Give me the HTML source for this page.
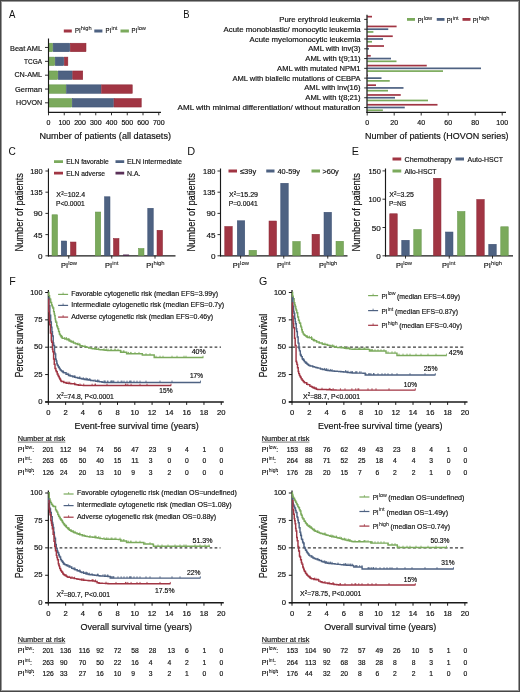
<!DOCTYPE html>
<html><head><meta charset="utf-8"><title>Figure</title>
<style>
html,body{margin:0;padding:0;background:#fff;}
body{width:520px;height:692px;overflow:hidden;}
svg{display:block;will-change:transform;font-family:"Liberation Sans", sans-serif;}
svg text{fill:#111;stroke:#111;stroke-width:0.18px;} svg text.big{stroke-width:0;} svg text.sup{stroke-width:0.06px;}
</style></head><body>
<svg width="520" height="692" viewBox="0 0 520 692">
<rect x="0" y="0" width="520" height="692" fill="#fff"/>
<text x="9" y="17.6" font-size="11.6" textLength="6.4" lengthAdjust="spacingAndGlyphs" class="big">A</text>
<rect x="63.8" y="29.5" width="8" height="3" fill="#a13543"/>
<text x="75" y="33.1" font-size="6.9" textLength="5.6" lengthAdjust="spacingAndGlyphs">PI</text>
<text x="80.85" y="30.1" font-size="5.7" class="sup">high</text>
<rect x="94.3" y="29.5" width="8.1" height="3" fill="#4e6282"/>
<text x="105.6" y="33.1" font-size="6.9" textLength="5.6" lengthAdjust="spacingAndGlyphs">PI</text>
<text x="111.45" y="30.1" font-size="5.7" class="sup">int</text>
<rect x="120.5" y="29.5" width="8.4" height="3" fill="#7baa5c"/>
<text x="131.6" y="33.1" font-size="6.9" textLength="5.6" lengthAdjust="spacingAndGlyphs">PI</text>
<text x="137.45" y="30.1" font-size="5.7" class="sup">low</text>
<rect x="48.77" y="43.23" width="3.85" height="8.45" fill="#7baa5c" stroke="#66974a" stroke-width="0.55"/>
<rect x="53.17" y="43.23" width="16.55" height="8.45" fill="#4e6282" stroke="#3a4f72" stroke-width="0.55"/>
<rect x="70.28" y="43.23" width="15.7" height="8.45" fill="#a13543" stroke="#8c2634" stroke-width="0.55"/>
<line x1="45" y1="47.45" x2="48.5" y2="47.45" stroke="#1a1a1a" stroke-width="0.9"/>
<text x="10" y="50.5" font-size="7.9" textLength="32.1" lengthAdjust="spacingAndGlyphs">Beat AML</text>
<rect x="48.77" y="57.12" width="5.95" height="8.45" fill="#7baa5c" stroke="#66974a" stroke-width="0.55"/>
<rect x="55.27" y="57.12" width="8.45" height="8.45" fill="#4e6282" stroke="#3a4f72" stroke-width="0.55"/>
<rect x="64.28" y="57.12" width="3.55" height="8.45" fill="#a13543" stroke="#8c2634" stroke-width="0.55"/>
<line x1="45" y1="61.35" x2="48.5" y2="61.35" stroke="#1a1a1a" stroke-width="0.9"/>
<text x="24" y="63.9" font-size="7.9" textLength="18.1" lengthAdjust="spacingAndGlyphs">TCGA</text>
<rect x="48.77" y="70.98" width="8.95" height="8.45" fill="#7baa5c" stroke="#66974a" stroke-width="0.55"/>
<rect x="58.27" y="70.98" width="13.95" height="8.45" fill="#4e6282" stroke="#3a4f72" stroke-width="0.55"/>
<rect x="72.78" y="70.98" width="9.95" height="8.45" fill="#a13543" stroke="#8c2634" stroke-width="0.55"/>
<line x1="45" y1="75.2" x2="48.5" y2="75.2" stroke="#1a1a1a" stroke-width="0.9"/>
<text x="14.4" y="77.4" font-size="7.9" textLength="27.7" lengthAdjust="spacingAndGlyphs">CN-AML</text>
<rect x="48.77" y="84.83" width="17.2" height="8.45" fill="#7baa5c" stroke="#66974a" stroke-width="0.55"/>
<rect x="66.53" y="84.83" width="34.45" height="8.45" fill="#4e6282" stroke="#3a4f72" stroke-width="0.55"/>
<rect x="101.53" y="84.83" width="30.7" height="8.45" fill="#a13543" stroke="#8c2634" stroke-width="0.55"/>
<line x1="45" y1="89.05" x2="48.5" y2="89.05" stroke="#1a1a1a" stroke-width="0.9"/>
<text x="15" y="91.9" font-size="7.9" textLength="27.1" lengthAdjust="spacingAndGlyphs">German</text>
<rect x="48.77" y="98.58" width="22.95" height="8.45" fill="#7baa5c" stroke="#66974a" stroke-width="0.55"/>
<rect x="72.28" y="98.58" width="41.2" height="8.45" fill="#4e6282" stroke="#3a4f72" stroke-width="0.55"/>
<rect x="114.03" y="98.58" width="27.2" height="8.45" fill="#a13543" stroke="#8c2634" stroke-width="0.55"/>
<line x1="45" y1="102.8" x2="48.5" y2="102.8" stroke="#1a1a1a" stroke-width="0.9"/>
<text x="16" y="105" font-size="7.9" textLength="26.1" lengthAdjust="spacingAndGlyphs">HOVON</text>
<line x1="48.5" y1="38.5" x2="48.5" y2="113" stroke="#1a1a1a" stroke-width="1.15"/>
<line x1="48" y1="112.45" x2="161" y2="112.45" stroke="#1a1a1a" stroke-width="1.2"/>
<line x1="48.5" y1="112.45" x2="48.5" y2="115.3" stroke="#1a1a1a" stroke-width="0.9"/>
<text x="48.5" y="125.3" font-size="7" text-anchor="middle">0</text>
<line x1="64.25" y1="112.45" x2="64.25" y2="115.3" stroke="#1a1a1a" stroke-width="0.9"/>
<text x="64.25" y="125.3" font-size="7" text-anchor="middle">100</text>
<line x1="80" y1="112.45" x2="80" y2="115.3" stroke="#1a1a1a" stroke-width="0.9"/>
<text x="80" y="125.3" font-size="7" text-anchor="middle">200</text>
<line x1="95.75" y1="112.45" x2="95.75" y2="115.3" stroke="#1a1a1a" stroke-width="0.9"/>
<text x="95.75" y="125.3" font-size="7" text-anchor="middle">300</text>
<line x1="111.5" y1="112.45" x2="111.5" y2="115.3" stroke="#1a1a1a" stroke-width="0.9"/>
<text x="111.5" y="125.3" font-size="7" text-anchor="middle">400</text>
<line x1="127.25" y1="112.45" x2="127.25" y2="115.3" stroke="#1a1a1a" stroke-width="0.9"/>
<text x="127.25" y="125.3" font-size="7" text-anchor="middle">500</text>
<line x1="143" y1="112.45" x2="143" y2="115.3" stroke="#1a1a1a" stroke-width="0.9"/>
<text x="143" y="125.3" font-size="7" text-anchor="middle">600</text>
<line x1="158.75" y1="112.45" x2="158.75" y2="115.3" stroke="#1a1a1a" stroke-width="0.9"/>
<text x="158.75" y="125.3" font-size="7" text-anchor="middle">700</text>
<text x="39.4" y="138.9" font-size="9.4" textLength="131.6" lengthAdjust="spacingAndGlyphs">Number of patients (all datasets)</text>
<text x="183.2" y="17.6" font-size="11.6" textLength="6.3" lengthAdjust="spacingAndGlyphs" class="big">B</text>
<rect x="407" y="18" width="8" height="2.8" fill="#7baa5c"/>
<text x="417.8" y="22.5" font-size="6.9" textLength="5.6" lengthAdjust="spacingAndGlyphs">PI</text>
<text x="423.65" y="19.5" font-size="5.7" class="sup">low</text>
<rect x="436.75" y="18" width="7.75" height="2.8" fill="#4e6282"/>
<text x="446.8" y="22.5" font-size="6.9" textLength="5.6" lengthAdjust="spacingAndGlyphs">PI</text>
<text x="452.65" y="19.5" font-size="5.7" class="sup">int</text>
<rect x="462.5" y="18" width="8" height="2.8" fill="#a13543"/>
<text x="472.8" y="22.5" font-size="6.9" textLength="5.6" lengthAdjust="spacingAndGlyphs">PI</text>
<text x="478.65" y="19.5" font-size="5.7" class="sup">high</text>
<rect x="367.2" y="15.8" width="4.8" height="1.7" fill="#a13543"/>
<rect x="367.2" y="21.3" width="0.5" height="1.7" fill="#7baa5c"/>
<line x1="364.2" y1="19.4" x2="367.2" y2="19.4" stroke="#1a1a1a" stroke-width="0.9"/>
<text x="360.6" y="21.95" font-size="7.8" text-anchor="end" textLength="81.25" lengthAdjust="spacingAndGlyphs">Pure erythroid leukemia</text>
<rect x="367.2" y="25.59" width="29.4" height="1.7" fill="#a13543"/>
<rect x="367.2" y="28.34" width="21.05" height="1.7" fill="#4e6282"/>
<rect x="367.2" y="31.09" width="6.2" height="1.7" fill="#7baa5c"/>
<line x1="364.2" y1="29.19" x2="367.2" y2="29.19" stroke="#1a1a1a" stroke-width="0.9"/>
<text x="360.6" y="31.74" font-size="7.8" text-anchor="end" textLength="137" lengthAdjust="spacingAndGlyphs">Acute monoblastic/ monocytic leukemia</text>
<rect x="367.2" y="35.38" width="25.55" height="1.7" fill="#a13543"/>
<rect x="367.2" y="38.13" width="15.8" height="1.7" fill="#4e6282"/>
<rect x="367.2" y="40.88" width="4.8" height="1.7" fill="#7baa5c"/>
<line x1="364.2" y1="38.98" x2="367.2" y2="38.98" stroke="#1a1a1a" stroke-width="0.9"/>
<text x="360.6" y="41.53" font-size="7.8" text-anchor="end" textLength="111" lengthAdjust="spacingAndGlyphs">Acute myelomonocytic leukemia</text>
<rect x="367.2" y="45.17" width="16.8" height="1.7" fill="#a13543"/>
<rect x="367.2" y="47.92" width="1.8" height="1.7" fill="#4e6282"/>
<line x1="364.2" y1="48.77" x2="367.2" y2="48.77" stroke="#1a1a1a" stroke-width="0.9"/>
<text x="360.6" y="51.32" font-size="7.8" text-anchor="end" textLength="52.4" lengthAdjust="spacingAndGlyphs">AML with inv(3)</text>
<rect x="367.2" y="54.96" width="3.55" height="1.7" fill="#a13543"/>
<rect x="367.2" y="57.71" width="23.8" height="1.7" fill="#4e6282"/>
<rect x="367.2" y="60.46" width="29.3" height="1.7" fill="#7baa5c"/>
<line x1="364.2" y1="58.56" x2="367.2" y2="58.56" stroke="#1a1a1a" stroke-width="0.9"/>
<text x="360.6" y="61.11" font-size="7.8" text-anchor="end" textLength="55.3" lengthAdjust="spacingAndGlyphs">AML with t(9;11)</text>
<rect x="367.2" y="64.75" width="59.55" height="1.7" fill="#a13543"/>
<rect x="367.2" y="67.5" width="113.8" height="1.7" fill="#4e6282"/>
<rect x="367.2" y="70.25" width="75.8" height="1.7" fill="#7baa5c"/>
<line x1="364.2" y1="68.35" x2="367.2" y2="68.35" stroke="#1a1a1a" stroke-width="0.9"/>
<text x="360.6" y="70.9" font-size="7.8" text-anchor="end" textLength="83.5" lengthAdjust="spacingAndGlyphs">AML with mutated NPM1</text>
<rect x="367.2" y="74.54" width="0.8" height="1.7" fill="#a13543"/>
<rect x="367.2" y="77.29" width="14.3" height="1.7" fill="#4e6282"/>
<rect x="367.2" y="80.04" width="22.55" height="1.7" fill="#7baa5c"/>
<line x1="364.2" y1="78.14" x2="367.2" y2="78.14" stroke="#1a1a1a" stroke-width="0.9"/>
<text x="360.6" y="80.69" font-size="7.8" text-anchor="end" textLength="128.2" lengthAdjust="spacingAndGlyphs">AML with biallelic mutations of CEBPA</text>
<rect x="367.2" y="84.33" width="8.8" height="1.7" fill="#a13543"/>
<rect x="367.2" y="87.08" width="36.3" height="1.7" fill="#4e6282"/>
<rect x="367.2" y="89.83" width="20.8" height="1.7" fill="#7baa5c"/>
<line x1="364.2" y1="87.93" x2="367.2" y2="87.93" stroke="#1a1a1a" stroke-width="0.9"/>
<text x="360.6" y="90.48" font-size="7.8" text-anchor="end" textLength="56.3" lengthAdjust="spacingAndGlyphs">AML with inv(16)</text>
<rect x="367.2" y="94.12" width="33.55" height="1.7" fill="#a13543"/>
<rect x="367.2" y="96.87" width="27.8" height="1.7" fill="#4e6282"/>
<rect x="367.2" y="99.62" width="60.8" height="1.7" fill="#7baa5c"/>
<line x1="364.2" y1="97.72" x2="367.2" y2="97.72" stroke="#1a1a1a" stroke-width="0.9"/>
<text x="360.6" y="100.27" font-size="7.8" text-anchor="end" textLength="55.3" lengthAdjust="spacingAndGlyphs">AML with t(8;21)</text>
<rect x="367.2" y="103.91" width="70.3" height="1.7" fill="#a13543"/>
<rect x="367.2" y="106.66" width="37.55" height="1.7" fill="#4e6282"/>
<rect x="367.2" y="109.41" width="15.7" height="1.7" fill="#7baa5c"/>
<line x1="364.2" y1="107.51" x2="367.2" y2="107.51" stroke="#1a1a1a" stroke-width="0.9"/>
<text x="360.6" y="110.06" font-size="7.8" text-anchor="end" textLength="183" lengthAdjust="spacingAndGlyphs">AML with minimal differentiation/ without maturation</text>
<line x1="367" y1="14.7" x2="367" y2="113" stroke="#1a1a1a" stroke-width="1.25"/>
<line x1="366.4" y1="112.45" x2="506" y2="112.45" stroke="#1a1a1a" stroke-width="1.2"/>
<line x1="367.2" y1="112.45" x2="367.2" y2="115.5" stroke="#1a1a1a" stroke-width="0.9"/>
<text x="367.2" y="125.2" font-size="7" text-anchor="middle">0</text>
<line x1="394.2" y1="112.45" x2="394.2" y2="115.5" stroke="#1a1a1a" stroke-width="0.9"/>
<text x="394.2" y="125.2" font-size="7" text-anchor="middle">20</text>
<line x1="421.2" y1="112.45" x2="421.2" y2="115.5" stroke="#1a1a1a" stroke-width="0.9"/>
<text x="421.2" y="125.2" font-size="7" text-anchor="middle">40</text>
<line x1="448.2" y1="112.45" x2="448.2" y2="115.5" stroke="#1a1a1a" stroke-width="0.9"/>
<text x="448.2" y="125.2" font-size="7" text-anchor="middle">60</text>
<line x1="475.2" y1="112.45" x2="475.2" y2="115.5" stroke="#1a1a1a" stroke-width="0.9"/>
<text x="475.2" y="125.2" font-size="7" text-anchor="middle">80</text>
<line x1="502.2" y1="112.45" x2="502.2" y2="115.5" stroke="#1a1a1a" stroke-width="0.9"/>
<text x="502.2" y="125.2" font-size="7" text-anchor="middle">100</text>
<text x="365" y="139.2" font-size="9.4" textLength="143.6" lengthAdjust="spacingAndGlyphs">Number of patients (HOVON series)</text>
<text x="8.6" y="154.6" font-size="11.6" textLength="7.3" lengthAdjust="spacingAndGlyphs" class="big">C</text>
<line x1="48.45" y1="168.5" x2="48.45" y2="256.4" stroke="#1a1a1a" stroke-width="1.15"/>
<line x1="47.9" y1="255.8" x2="175.5" y2="255.8" stroke="#1a1a1a" stroke-width="1.35"/>
<line x1="45.45" y1="255.8" x2="48.45" y2="255.8" stroke="#1a1a1a" stroke-width="0.9"/>
<text x="42.6" y="258.85" font-size="8.1" text-anchor="end">0</text>
<line x1="45.45" y1="234.6" x2="48.45" y2="234.6" stroke="#1a1a1a" stroke-width="0.9"/>
<text x="42.6" y="237.65" font-size="8.1" text-anchor="end">45</text>
<line x1="45.45" y1="213.4" x2="48.45" y2="213.4" stroke="#1a1a1a" stroke-width="0.9"/>
<text x="42.6" y="216.45" font-size="8.1" text-anchor="end">90</text>
<line x1="45.45" y1="192.2" x2="48.45" y2="192.2" stroke="#1a1a1a" stroke-width="0.9"/>
<text x="42.6" y="195.25" font-size="8.1" text-anchor="end" textLength="12.4" lengthAdjust="spacingAndGlyphs">135</text>
<line x1="45.45" y1="171" x2="48.45" y2="171" stroke="#1a1a1a" stroke-width="0.9"/>
<text x="42.6" y="174.05" font-size="8.1" text-anchor="end" textLength="12.4" lengthAdjust="spacingAndGlyphs">180</text>
<text transform="translate(22.6 212.3) rotate(-90)" font-size="10.1" text-anchor="middle" textLength="78.5" lengthAdjust="spacingAndGlyphs">Number of patients</text>
<rect x="52.02" y="214.78" width="5.45" height="40.75" fill="#7baa5c" stroke="#66974a" stroke-width="0.55"/>
<rect x="61.27" y="241.03" width="5.45" height="14.5" fill="#4e6282" stroke="#3a4f72" stroke-width="0.55"/>
<rect x="70.53" y="242.03" width="5.45" height="13.5" fill="#a13543" stroke="#8c2634" stroke-width="0.55"/>
<rect x="95.28" y="212.03" width="5.45" height="43.5" fill="#7baa5c" stroke="#66974a" stroke-width="0.55"/>
<rect x="104.53" y="196.78" width="5.45" height="58.75" fill="#4e6282" stroke="#3a4f72" stroke-width="0.55"/>
<rect x="113.53" y="238.53" width="5.45" height="17" fill="#a13543" stroke="#8c2634" stroke-width="0.55"/>
<rect x="123.38" y="254.88" width="5.45" height="0.65" fill="#5a3058" stroke="#4a2048" stroke-width="0.55"/>
<rect x="138.53" y="248.53" width="5.45" height="7" fill="#7baa5c" stroke="#66974a" stroke-width="0.55"/>
<rect x="147.78" y="208.28" width="5.45" height="47.25" fill="#4e6282" stroke="#3a4f72" stroke-width="0.55"/>
<rect x="157.03" y="230.28" width="5.45" height="25.25" fill="#a13543" stroke="#8c2634" stroke-width="0.55"/>
<line x1="68.75" y1="255.8" x2="68.75" y2="258.6" stroke="#1a1a1a" stroke-width="0.9"/>
<line x1="111.75" y1="255.8" x2="111.75" y2="258.6" stroke="#1a1a1a" stroke-width="0.9"/>
<line x1="155" y1="255.8" x2="155" y2="258.6" stroke="#1a1a1a" stroke-width="0.9"/>
<text x="56.3" y="197" font-size="7">X</text>
<text x="61.15" y="194.6" font-size="4.41">2</text>
<text x="63.55" y="197" font-size="7" textLength="21.6" lengthAdjust="spacingAndGlyphs">=102.4</text>
<text x="56" y="205.7" font-size="7" textLength="28.6" lengthAdjust="spacingAndGlyphs">P&lt;0.0001</text>
<rect x="54" y="160.25" width="9" height="2.75" fill="#7baa5c"/>
<text x="66.25" y="164.3" font-size="7.7" textLength="42.5" lengthAdjust="spacingAndGlyphs">ELN favorable</text>
<rect x="115.5" y="160.25" width="8.7" height="2.75" fill="#4e6282"/>
<text x="127" y="164.3" font-size="7.7" textLength="55" lengthAdjust="spacingAndGlyphs">ELN intermediate</text>
<rect x="54" y="171.75" width="9" height="2.75" fill="#a13543"/>
<text x="66.25" y="175.5" font-size="7.7" textLength="38.75" lengthAdjust="spacingAndGlyphs">ELN adverse</text>
<rect x="115.5" y="171.75" width="8.7" height="2.75" fill="#5a3058"/>
<text x="127" y="175.5" font-size="7.7" textLength="13.5" lengthAdjust="spacingAndGlyphs">N.A.</text>
<text x="187.3" y="154.6" font-size="11.6" textLength="7.9" lengthAdjust="spacingAndGlyphs" class="big">D</text>
<line x1="220.5" y1="168.5" x2="220.5" y2="256.4" stroke="#1a1a1a" stroke-width="1.15"/>
<line x1="219.95" y1="255.8" x2="347.5" y2="255.8" stroke="#1a1a1a" stroke-width="1.35"/>
<line x1="217.5" y1="255.8" x2="220.5" y2="255.8" stroke="#1a1a1a" stroke-width="0.9"/>
<text x="215.4" y="258.85" font-size="8.1" text-anchor="end">0</text>
<line x1="217.5" y1="234.6" x2="220.5" y2="234.6" stroke="#1a1a1a" stroke-width="0.9"/>
<text x="215.4" y="237.65" font-size="8.1" text-anchor="end">45</text>
<line x1="217.5" y1="213.4" x2="220.5" y2="213.4" stroke="#1a1a1a" stroke-width="0.9"/>
<text x="215.4" y="216.45" font-size="8.1" text-anchor="end">90</text>
<line x1="217.5" y1="192.2" x2="220.5" y2="192.2" stroke="#1a1a1a" stroke-width="0.9"/>
<text x="215.4" y="195.25" font-size="8.1" text-anchor="end" textLength="12.4" lengthAdjust="spacingAndGlyphs">135</text>
<line x1="217.5" y1="171" x2="220.5" y2="171" stroke="#1a1a1a" stroke-width="0.9"/>
<text x="215.4" y="174.05" font-size="8.1" text-anchor="end" textLength="12.4" lengthAdjust="spacingAndGlyphs">180</text>
<text transform="translate(194.6 212.3) rotate(-90)" font-size="10.1" text-anchor="middle" textLength="78.5" lengthAdjust="spacingAndGlyphs">Number of patients</text>
<rect x="224.78" y="226.53" width="7.45" height="29" fill="#a13543" stroke="#8c2634" stroke-width="0.55"/>
<rect x="237.28" y="220.78" width="7.45" height="34.75" fill="#4e6282" stroke="#3a4f72" stroke-width="0.55"/>
<rect x="249.03" y="250.28" width="7.45" height="5.25" fill="#7baa5c" stroke="#66974a" stroke-width="0.55"/>
<rect x="269.02" y="221.03" width="7.45" height="34.5" fill="#a13543" stroke="#8c2634" stroke-width="0.55"/>
<rect x="280.77" y="183.28" width="7.45" height="72.25" fill="#4e6282" stroke="#3a4f72" stroke-width="0.55"/>
<rect x="292.77" y="241.53" width="7.45" height="14" fill="#7baa5c" stroke="#66974a" stroke-width="0.55"/>
<rect x="312.02" y="234.28" width="7.45" height="21.25" fill="#a13543" stroke="#8c2634" stroke-width="0.55"/>
<rect x="324.02" y="212.28" width="7.45" height="43.25" fill="#4e6282" stroke="#3a4f72" stroke-width="0.55"/>
<rect x="336.02" y="241.28" width="7.45" height="14.25" fill="#7baa5c" stroke="#66974a" stroke-width="0.55"/>
<line x1="240.6" y1="255.8" x2="240.6" y2="258.6" stroke="#1a1a1a" stroke-width="0.9"/>
<line x1="283.75" y1="255.8" x2="283.75" y2="258.6" stroke="#1a1a1a" stroke-width="0.9"/>
<line x1="327.75" y1="255.8" x2="327.75" y2="258.6" stroke="#1a1a1a" stroke-width="0.9"/>
<text x="229" y="197" font-size="7">X</text>
<text x="233.85" y="194.6" font-size="4.41">2</text>
<text x="236.25" y="197" font-size="7" textLength="21.8" lengthAdjust="spacingAndGlyphs">=15.29</text>
<text x="228.7" y="205.7" font-size="7" textLength="29" lengthAdjust="spacingAndGlyphs">P=0.0041</text>
<rect x="228.5" y="169.5" width="8.5" height="3" fill="#a13543"/>
<text x="240" y="173.5" font-size="7.7" textLength="16.25" lengthAdjust="spacingAndGlyphs">≤39y</text>
<rect x="266.25" y="169.5" width="8.25" height="3" fill="#4e6282"/>
<text x="277.5" y="173.5" font-size="7.7" textLength="22.5" lengthAdjust="spacingAndGlyphs">40-59y</text>
<rect x="311.5" y="169.5" width="8.5" height="3" fill="#7baa5c"/>
<text x="322.5" y="173.5" font-size="7.7" textLength="16.25" lengthAdjust="spacingAndGlyphs">&gt;60y</text>
<text x="351.8" y="154.6" font-size="11.6" textLength="7.2" lengthAdjust="spacingAndGlyphs" class="big">E</text>
<line x1="385.5" y1="168.5" x2="385.5" y2="256.4" stroke="#1a1a1a" stroke-width="1.15"/>
<line x1="384.95" y1="255.8" x2="513" y2="255.8" stroke="#1a1a1a" stroke-width="1.35"/>
<line x1="382.5" y1="255.8" x2="385.5" y2="255.8" stroke="#1a1a1a" stroke-width="0.9"/>
<text x="380.8" y="258.85" font-size="8.1" text-anchor="end">0</text>
<line x1="382.5" y1="227.5" x2="385.5" y2="227.5" stroke="#1a1a1a" stroke-width="0.9"/>
<text x="380.8" y="230.55" font-size="8.1" text-anchor="end">50</text>
<line x1="382.5" y1="199.2" x2="385.5" y2="199.2" stroke="#1a1a1a" stroke-width="0.9"/>
<text x="380.8" y="202.25" font-size="8.1" text-anchor="end" textLength="12.4" lengthAdjust="spacingAndGlyphs">100</text>
<line x1="382.5" y1="170.9" x2="385.5" y2="170.9" stroke="#1a1a1a" stroke-width="0.9"/>
<text x="380.8" y="173.95" font-size="8.1" text-anchor="end" textLength="12.4" lengthAdjust="spacingAndGlyphs">150</text>
<text transform="translate(360.3 212.3) rotate(-90)" font-size="10.1" text-anchor="middle" textLength="78.5" lengthAdjust="spacingAndGlyphs">Number of patients</text>
<rect x="389.77" y="213.78" width="7.45" height="41.75" fill="#a13543" stroke="#8c2634" stroke-width="0.55"/>
<rect x="401.77" y="240.28" width="7.45" height="15.25" fill="#4e6282" stroke="#3a4f72" stroke-width="0.55"/>
<rect x="413.77" y="229.53" width="7.45" height="26" fill="#7baa5c" stroke="#66974a" stroke-width="0.55"/>
<rect x="433.52" y="178.28" width="7.45" height="77.25" fill="#a13543" stroke="#8c2634" stroke-width="0.55"/>
<rect x="445.52" y="232.03" width="7.45" height="23.5" fill="#4e6282" stroke="#3a4f72" stroke-width="0.55"/>
<rect x="457.52" y="211.53" width="7.45" height="44" fill="#7baa5c" stroke="#66974a" stroke-width="0.55"/>
<rect x="476.77" y="199.53" width="7.45" height="56" fill="#a13543" stroke="#8c2634" stroke-width="0.55"/>
<rect x="488.77" y="244.28" width="7.45" height="11.25" fill="#4e6282" stroke="#3a4f72" stroke-width="0.55"/>
<rect x="500.77" y="226.78" width="7.45" height="28.75" fill="#7baa5c" stroke="#66974a" stroke-width="0.55"/>
<line x1="405.5" y1="255.8" x2="405.5" y2="258.6" stroke="#1a1a1a" stroke-width="0.9"/>
<line x1="449.25" y1="255.8" x2="449.25" y2="258.6" stroke="#1a1a1a" stroke-width="0.9"/>
<line x1="492.5" y1="255.8" x2="492.5" y2="258.6" stroke="#1a1a1a" stroke-width="0.9"/>
<text x="389.2" y="197" font-size="7">X</text>
<text x="394.05" y="194.6" font-size="4.41">2</text>
<text x="396.45" y="197" font-size="7" textLength="17.5" lengthAdjust="spacingAndGlyphs">=3.25</text>
<text x="388.9" y="205.7" font-size="7" textLength="17.2" lengthAdjust="spacingAndGlyphs">P=NS</text>
<rect x="392.5" y="157.5" width="8.75" height="3" fill="#a13543"/>
<text x="404.5" y="161.6" font-size="7.7" textLength="47.5" lengthAdjust="spacingAndGlyphs">Chemotherapy</text>
<rect x="455.5" y="157.5" width="8.5" height="3" fill="#4e6282"/>
<text x="467.5" y="161.6" font-size="7.7" textLength="35.5" lengthAdjust="spacingAndGlyphs">Auto-HSCT</text>
<rect x="392.5" y="169.5" width="8.75" height="3" fill="#7baa5c"/>
<text x="404.5" y="173.5" font-size="7.7" textLength="32" lengthAdjust="spacingAndGlyphs">Allo-HSCT</text>
<text x="61" y="268.2" font-size="7.4">PI</text>
<text x="68.24" y="264.87" font-size="5.92" class="sup">low</text>
<text x="105" y="268.2" font-size="7.4">PI</text>
<text x="112.24" y="264.87" font-size="5.92" class="sup">int</text>
<text x="146.25" y="268.2" font-size="7.4">PI</text>
<text x="153.49" y="264.87" font-size="5.92" class="sup">high</text>
<text x="232.85" y="268.2" font-size="7.4">PI</text>
<text x="240.09" y="264.87" font-size="5.92" class="sup">low</text>
<text x="277" y="268.2" font-size="7.4">PI</text>
<text x="284.24" y="264.87" font-size="5.92" class="sup">int</text>
<text x="319" y="268.2" font-size="7.4">PI</text>
<text x="326.24" y="264.87" font-size="5.92" class="sup">high</text>
<text x="396" y="268.2" font-size="7.4">PI</text>
<text x="403.24" y="264.87" font-size="5.92" class="sup">low</text>
<text x="442" y="268.2" font-size="7.4">PI</text>
<text x="449.24" y="264.87" font-size="5.92" class="sup">int</text>
<text x="483.75" y="268.2" font-size="7.4">PI</text>
<text x="490.99" y="264.87" font-size="5.92" class="sup">high</text>
<text x="9.2" y="284.6" font-size="11.6" textLength="6.5" lengthAdjust="spacingAndGlyphs" class="big">F</text>
<line x1="48.35" y1="290" x2="48.35" y2="402.6" stroke="#1a1a1a" stroke-width="1.25"/>
<line x1="45.15" y1="401.9" x2="223.8" y2="401.9" stroke="#1a1a1a" stroke-width="1.45"/>
<line x1="45.15" y1="401.9" x2="48.35" y2="401.9" stroke="#1a1a1a" stroke-width="1"/>
<text x="42.45" y="404.1" font-size="7.7" text-anchor="end">0</text>
<line x1="45.15" y1="374.55" x2="48.35" y2="374.55" stroke="#1a1a1a" stroke-width="1"/>
<text x="42.45" y="376.75" font-size="7.7" text-anchor="end">25</text>
<line x1="45.15" y1="347.2" x2="48.35" y2="347.2" stroke="#1a1a1a" stroke-width="1"/>
<text x="42.45" y="349.4" font-size="7.7" text-anchor="end">50</text>
<line x1="45.15" y1="319.85" x2="48.35" y2="319.85" stroke="#1a1a1a" stroke-width="1"/>
<text x="42.45" y="322.05" font-size="7.7" text-anchor="end">75</text>
<line x1="45.15" y1="292.5" x2="48.35" y2="292.5" stroke="#1a1a1a" stroke-width="1"/>
<text x="42.45" y="294.7" font-size="7.7" text-anchor="end" textLength="12.2" lengthAdjust="spacingAndGlyphs">100</text>
<line x1="48.35" y1="401.9" x2="48.35" y2="404.9" stroke="#1a1a1a" stroke-width="1"/>
<text x="48.35" y="415.4" font-size="7.6" text-anchor="middle">0</text>
<line x1="65.64" y1="401.9" x2="65.64" y2="404.9" stroke="#1a1a1a" stroke-width="1"/>
<text x="65.64" y="415.4" font-size="7.6" text-anchor="middle">2</text>
<line x1="82.93" y1="401.9" x2="82.93" y2="404.9" stroke="#1a1a1a" stroke-width="1"/>
<text x="82.93" y="415.4" font-size="7.6" text-anchor="middle">4</text>
<line x1="100.22" y1="401.9" x2="100.22" y2="404.9" stroke="#1a1a1a" stroke-width="1"/>
<text x="100.22" y="415.4" font-size="7.6" text-anchor="middle">6</text>
<line x1="117.51" y1="401.9" x2="117.51" y2="404.9" stroke="#1a1a1a" stroke-width="1"/>
<text x="117.51" y="415.4" font-size="7.6" text-anchor="middle">8</text>
<line x1="134.8" y1="401.9" x2="134.8" y2="404.9" stroke="#1a1a1a" stroke-width="1"/>
<text x="134.8" y="415.4" font-size="7.6" text-anchor="middle">10</text>
<line x1="152.09" y1="401.9" x2="152.09" y2="404.9" stroke="#1a1a1a" stroke-width="1"/>
<text x="152.09" y="415.4" font-size="7.6" text-anchor="middle">12</text>
<line x1="169.38" y1="401.9" x2="169.38" y2="404.9" stroke="#1a1a1a" stroke-width="1"/>
<text x="169.38" y="415.4" font-size="7.6" text-anchor="middle">14</text>
<line x1="186.67" y1="401.9" x2="186.67" y2="404.9" stroke="#1a1a1a" stroke-width="1"/>
<text x="186.67" y="415.4" font-size="7.6" text-anchor="middle">16</text>
<line x1="203.96" y1="401.9" x2="203.96" y2="404.9" stroke="#1a1a1a" stroke-width="1"/>
<text x="203.96" y="415.4" font-size="7.6" text-anchor="middle">18</text>
<line x1="221.25" y1="401.9" x2="221.25" y2="404.9" stroke="#1a1a1a" stroke-width="1"/>
<text x="221.25" y="415.4" font-size="7.6" text-anchor="middle">20</text>
<text x="74.4" y="428.6" font-size="9.7" textLength="124.3" lengthAdjust="spacingAndGlyphs">Event-free survival time (years)</text>
<text transform="translate(22.6 345.7) rotate(-90)" font-size="10.1" text-anchor="middle" textLength="63.8" lengthAdjust="spacingAndGlyphs">Percent survival</text>
<line x1="48.35" y1="347.2" x2="221" y2="347.2" stroke="#3a3a3a" stroke-width="1.25" stroke-dasharray="2.7 2.3" stroke-dashoffset="3.75"/>
<path d="M48.35 292.5 L48.86 292.5 L48.86 295.6 L49.55 295.6 L49.55 298.43 L49.94 298.43 L49.94 299.25 L50.7 299.25 L50.7 302.42 L51.57 302.42 L51.57 305.04 L52.23 305.04 L52.23 306.55 L52.8 306.55 L52.8 307.94 L53.63 307.94 L53.63 311.63 L54.25 311.63 L54.25 314.05 L54.64 314.05 L54.64 315.74 L55.11 315.74 L55.11 318.87 L55.55 318.87 L55.55 321.06 L55.93 321.06 L55.93 322.19 L56.76 322.19 L56.76 325.7 L57.32 325.7 L57.32 327.09 L57.85 327.09 L57.85 328.78 L58.59 328.78 L58.59 331.54 L59.43 331.54 L59.43 333.91 L60.02 333.91 L60.02 334.86 L60.52 334.86 L60.52 335.78 L61.21 335.78 L61.21 337.05 L62.09 337.05 L62.09 338.04 L62.6 338.04 L62.6 338.35 L64.84 338.35 L64.84 339.02 L67.05 339.02 L67.05 339.69 L68.97 339.69 L68.97 340.86 L69.37 340.86 L69.37 340.86 L70.17 340.86 L70.17 341.3 L70.62 341.3 L70.62 341.48 L71.52 341.48 L71.52 342.02 L73.52 342.02 L73.52 342.96 L75.5 342.96 L75.5 343.7 L77.49 343.7 L77.49 344.56 L79.94 344.56 L79.94 345.71 L82.17 345.71 L82.17 346.26 L83.27 346.26 L83.27 346.39 L84.72 346.39 L84.72 346.8 L86.69 346.8 L86.69 347.36 L88.77 347.36 L88.77 347.91 L91.35 347.91 L91.35 348.62 L92.6 348.62 L92.6 348.7 L94.81 348.7 L94.81 349.06 L96.47 349.06 L96.47 349.24 L98.87 349.24 L98.87 349.61 L100.23 349.61 L100.23 349.7 L101.48 349.7 L101.48 349.82 L103.33 349.82 L103.33 350.05 L105.13 350.05 L105.13 350.24 L106.6 350.24 L106.6 350.38 L107.42 350.38 L107.42 350.41 L108.47 350.41 L108.47 350.42 L110.51 350.42 L110.51 350.46 L111.63 350.46 L111.63 350.48 L112.97 350.48 L112.97 350.5 L114.89 350.5 L114.89 350.53 L116 350.53 L116 350.54 L118.29 350.54 L118.29 350.59 L120.56 350.59 L120.56 352.25 L121.4 352.25 L121.4 352.25 L123.31 352.25 L123.31 352.25 L124.99 352.25 L124.99 352.25 L126.59 352.25 L126.59 353.75 L129.03 353.75 L129.03 353.75 L131.45 353.75 L131.45 353.75 L132.32 353.75 L132.32 353.75 L133.23 353.75 L133.23 353.75 L135.19 353.75 L135.19 353.75 L136.12 353.75 L136.12 353.75 L137.8 353.75 L137.8 353.75 L139.03 353.75 L139.03 353.75 L140.31 353.75 L140.31 353.75 L142.32 353.75 L142.32 355 L142.75 355 L142.75 355 L143.64 355 L143.64 355 L145.84 355 L145.84 355 L148.2 355 L148.2 355 L149.26 355 L149.26 355 L150.4 355 L150.4 355 L151.61 355 L151.61 355 L154.2 355 L154.2 357.5 L155.17 357.5 L155.17 357.5 L157.46 357.5 L157.46 357.5 L158.53 357.5 L158.53 357.5 L160.95 357.5 L160.95 357.5 L161.95 357.5 L161.95 357.5 L164.05 357.5 L164.05 357.5 L164.97 357.5 L164.97 357.5 L166.19 357.5 L166.19 357.5 L168.45 357.5 L168.45 357.5 L170.62 357.5 L170.62 357.5 L172.53 357.5 L172.53 357.5 L174.62 357.5 L174.62 357.5 L175.44 357.5 L175.44 357.5 L177.03 357.5 L177.03 357.5 L177.84 357.5 L177.84 357.5 L178.92 357.5 L178.92 357.5 L180.5 357.5 L180.5 357.5 L182.19 357.5 L182.19 357.5 L183.77 357.5 L183.77 357.5 L185.42 357.5 L185.42 357.5 L187.98 357.5 L187.98 357.5 L190.34 357.5 L190.34 357.5 L192.44 357.5 L192.44 357.5 L193.64 357.5 L193.64 357.5 L195.65 357.5 L195.65 357.5 L198.05 357.5 L198.05 357.5 L200 357.5 L200 357.5 L201.51 357.5 L201.51 357.5 L203.4 357.5 L203.4 357.5" fill="none" stroke="#7baa5c" stroke-width="1.45" stroke-linejoin="miter"/>
<path d="M62 337.5 v-1.8 M70 340.92 v-1.8 M78 344.35 v-1.8 M85 346.69 v-1.8 M95 348.93 v-1.8 M104 350.03 v-1.8 M108 350.41 v-1.8 M111 350.46 v-1.8 M115 350.52 v-1.8 M118 350.57 v-1.8 M124 352.25 v-1.8 M128 353.75 v-1.8 M131 353.75 v-1.8 M135 353.75 v-1.8 M139 353.75 v-1.8 M146 355 v-1.8 M150 355 v-1.8 M156 357.5 v-1.8 M160 357.5 v-1.8 M163 357.5 v-1.8 M172 357.5 v-1.8 M177 357.5 v-1.8 M184 357.5 v-1.8 M186 357.5 v-1.8 M203 357.5 v-1.8 M98.56 349.41 v-1.8 M66.51 339.1 v-1.8 M111.14 350.46 v-1.8 M79.62 345.05 v-1.8 M128.6 353.75 v-1.8 M71.19 341.71 v-1.8 M115.02 350.52 v-1.8 M69.1 340.32 v-1.8 M130.74 353.75 v-1.8 M123.62 352.25 v-1.8 M64.63 338.83 v-1.8 M106.35 350.28 v-1.8 M73.14 342.45 v-1.8 M95.74 349.03 v-1.8 M121.82 352.25 v-1.8 M68.28 339.77 v-1.8 M73.07 342.42 v-1.8 M62 337.5 v-1.8 M61.24 336.73 v-1.8 M94.76 348.9 v-1.8 M68.9 340.19 v-1.8 M66.27 339.07 v-1.8" fill="none" stroke="#7baa5c" stroke-width="0.85"/>
<path d="M48.35 297.5 L48.93 297.5 L48.93 305.68 L49.82 305.68 L49.82 315.31 L50.65 315.31 L50.65 322.08 L51.33 322.08 L51.33 327.23 L51.91 327.23 L51.91 331.69 L52.45 331.69 L52.45 335.95 L53.22 335.95 L53.22 343 L53.69 343 L53.69 345.47 L54.5 345.47 L54.5 352.52 L54.91 352.52 L54.91 354.03 L55.65 354.03 L55.65 359.16 L56.2 359.16 L56.2 360.98 L56.81 360.98 L56.81 363.49 L57.23 363.49 L57.23 364.77 L57.62 364.77 L57.62 365.5 L58.32 365.5 L58.32 366.88 L58.75 366.88 L58.75 367.37 L59.33 367.37 L59.33 368.43 L60.09 368.43 L60.09 369.78 L60.96 369.78 L60.96 370.63 L61.67 370.63 L61.67 371.13 L62.39 371.13 L62.39 371.71 L63.22 371.71 L63.22 372.41 L63.98 372.41 L63.98 372.8 L66.07 372.8 L66.07 374.17 L68.5 374.17 L68.5 375.46 L69.71 375.46 L69.71 375.7 L70.64 375.7 L70.64 375.94 L72.63 375.94 L72.63 376.7 L74.71 376.7 L74.71 377.35 L75.91 377.35 L75.91 377.56 L77.59 377.56 L77.59 378.02 L79.12 378.02 L79.12 378.37 L80.14 378.37 L80.14 378.56 L82.02 378.56 L82.02 379.07 L84.34 379.07 L84.34 379.48 L85.21 379.48 L85.21 379.5 L86.36 379.5 L86.36 379.71 L88.19 379.71 L88.19 380.06 L90.63 380.06 L90.63 380.5 L91.63 380.5 L91.63 380.54 L93.33 380.54 L93.33 380.87 L95.84 380.87 L95.84 381.33 L97.67 381.33 L97.67 381.54 L98.73 381.54 L98.73 381.63 L99.66 381.63 L99.66 381.75 L102.04 381.75 L102.04 382.16 L104.2 382.16 L104.2 382.4 L105.21 382.4 L105.21 382.4 L107.6 382.4 L107.6 382.4 L108.47 382.4 L108.47 382.4 L110.11 382.4 L110.11 382.4 L112.58 382.4 L112.58 382.4 L114.8 382.4 L114.8 382.4 L116.03 382.4 L116.03 382.4 L117.75 382.4 L117.75 382.4 L119.6 382.4 L119.6 382.4 L120.99 382.4 L120.99 382.4 L122.49 382.4 L122.49 382.4 L123.68 382.4 L123.68 382.4 L125.13 382.4 L125.13 382.4 L126.42 382.4 L126.42 382.4 L128.66 382.4 L128.66 382.4 L131.21 382.4 L131.21 382.4 L133.37 382.4 L133.37 382.4 L135.16 382.4 L135.16 382.4 L136.24 382.4 L136.24 382.4 L137.46 382.4 L137.46 382.4 L139.61 382.4 L139.61 382.4 L140.65 382.4 L140.65 382.4 L142.1 382.4 L142.1 382.4 L144.29 382.4 L144.29 382.4 L146.52 382.4 L146.52 382.4 L147.65 382.4 L147.65 382.4 L149.06 382.4 L149.06 382.4 L150.35 382.4 L150.35 382.4 L152.78 382.4 L152.78 382.4 L153.63 382.4 L153.63 382.4 L154.57 382.4 L154.57 382.4 L157.16 382.4 L157.16 382.4 L158.67 382.4 L158.67 382.4 L160.37 382.4 L160.37 382.4 L161.19 382.4 L161.19 382.4 L162.95 382.4 L162.95 382.4 L165.15 382.4 L165.15 382.4 L167.65 382.4 L167.65 382.4 L169.41 382.4 L169.41 382.4 L170.29 382.4 L170.29 382.4 L172.06 382.4 L172.06 382.4 L173.57 382.4 L173.57 382.4 L175.29 382.4 L175.29 382.4 L176.92 382.4 L176.92 382.4 L178.37 382.4 L178.37 382.4 L180.34 382.4 L180.34 382.4 L182.68 382.4 L182.68 382.4 L183.87 382.4 L183.87 382.4 L184.99 382.4 L184.99 382.4 L187.4 382.4 L187.4 382.4 L189.86 382.4 L189.86 382.4 L190.75 382.4 L190.75 382.4 L192.8 382.4 L192.8 382.4 L195.19 382.4 L195.19 382.4 L196.82 382.4 L196.82 382.4 L198.21 382.4 L198.21 382.4 L200.48 382.4 L200.48 382.4 L200.7 382.4 L200.7 382.4" fill="none" stroke="#4e6282" stroke-width="1.45" stroke-linejoin="miter"/>
<path d="M70 375.6 v-1.8 M75 377.12 v-1.8 M80 378.4 v-1.8 M86 379.56 v-1.8 M90 380.2 v-1.8 M95 381 v-1.8 M99 381.6 v-1.8 M104 382.27 v-1.8 M108 382.4 v-1.8 M112 382.4 v-1.8 M118 382.4 v-1.8 M122 382.4 v-1.8 M124 382.4 v-1.8 M127 382.4 v-1.8 M131 382.4 v-1.8 M134 382.4 v-1.8 M137 382.4 v-1.8 M140 382.4 v-1.8 M146 382.4 v-1.8 M160 382.4 v-1.8 M172 382.4 v-1.8 M200.5 382.4 v-1.8 M63.31 372.15 v-1.8 M129.55 382.4 v-1.8 M67.9 374.56 v-1.8 M113.28 382.4 v-1.8 M121.13 382.4 v-1.8 M113.88 382.4 v-1.8 M79.6 378.3 v-1.8 M83.43 379.15 v-1.8 M111.93 382.4 v-1.8 M130.7 382.4 v-1.8 M107.37 382.4 v-1.8 M97.97 381.46 v-1.8 M86.22 379.59 v-1.8 M87.59 379.81 v-1.8 M111.72 382.4 v-1.8 M89.37 380.1 v-1.8 M97.48 381.4 v-1.8 M104.93 382.39 v-1.8 M105.05 382.4 v-1.8 M59.51 368.24 v-1.8 M74.11 376.85 v-1.8 M110.69 382.4 v-1.8" fill="none" stroke="#4e6282" stroke-width="0.85"/>
<path d="M48.35 299.25 L48.78 299.25 L48.78 311.55 L49.27 311.55 L49.27 320.44 L49.71 320.44 L49.71 324.74 L50.42 324.74 L50.42 333.11 L51.31 333.11 L51.31 340.68 L51.75 340.68 L51.75 342.27 L52.44 342.27 L52.44 349.31 L52.86 349.31 L52.86 351.74 L53.6 351.74 L53.6 359.06 L54.26 359.06 L54.26 364.23 L55.01 364.23 L55.01 368.44 L55.87 368.44 L55.87 370.77 L56.45 370.77 L56.45 371.84 L57.21 371.84 L57.21 373.93 L58.01 373.93 L58.01 375.59 L58.55 375.59 L58.55 376.4 L59.2 376.4 L59.2 377.8 L59.68 377.8 L59.68 378.6 L60.04 378.6 L60.04 379.2 L60.54 379.2 L60.54 380.33 L60.93 380.33 L60.93 381 L61.55 381 L61.55 381.48 L63.77 381.48 L63.77 382.59 L66.19 382.59 L66.19 383.22 L67.64 383.22 L67.64 383.32 L68.64 383.32 L68.64 383.4 L70.85 383.4 L70.85 383.69 L72.23 383.69 L72.23 383.84 L74.78 383.84 L74.78 384.49 L76.38 384.49 L76.38 384.72 L78.32 384.72 L78.32 385.15 L79.34 385.15 L79.34 385.27 L80.22 385.27 L80.22 385.32 L81.44 385.32 L81.44 385.35 L83.31 385.35 L83.31 385.4 L85.54 385.4 L85.54 385.45 L87.37 385.45 L87.37 385.49 L89.25 385.49 L89.25 385.5 L91.14 385.5 L91.14 385.5 L93.22 385.5 L93.22 385.5 L94.79 385.5 L94.79 385.5 L96.53 385.5 L96.53 385.5 L98.8 385.5 L98.8 385.5 L99.78 385.5 L99.78 385.5 L102.18 385.5 L102.18 385.5 L104.54 385.5 L104.54 385.5 L106.17 385.5 L106.17 385.5 L107.79 385.5 L107.79 385.5 L109.39 385.5 L109.39 385.5 L111.8 385.5 L111.8 385.5 L114.05 385.5 L114.05 385.5 L115.17 385.5 L115.17 385.5 L116.57 385.5 L116.57 385.5 L117.69 385.5 L117.69 385.5 L118.78 385.5 L118.78 385.5 L120.67 385.5 L120.67 385.5 L121.72 385.5 L121.72 385.5 L123.11 385.5 L123.11 385.5 L125.67 385.5 L125.67 385.5 L126.72 385.5 L126.72 385.5 L129.23 385.5 L129.23 385.5 L131.19 385.5 L131.19 385.5 L132.83 385.5 L132.83 385.5 L134.24 385.5 L134.24 385.5 L135.17 385.5 L135.17 385.5 L137.26 385.5 L137.26 385.5 L138.42 385.5 L138.42 385.5 L139.95 385.5 L139.95 385.5 L141.49 385.5 L141.49 385.5 L142.32 385.5 L142.32 385.5 L143.66 385.5 L143.66 385.5 L145.88 385.5 L145.88 385.5 L148.47 385.5 L148.47 385.5 L150.43 385.5 L150.43 385.5 L152.28 385.5 L152.28 385.5 L153.18 385.5 L153.18 385.5 L154.85 385.5 L154.85 385.5 L155.98 385.5 L155.98 385.5 L157.85 385.5 L157.85 385.5 L159.33 385.5 L159.33 385.5 L161.72 385.5 L161.72 385.5 L163.02 385.5 L163.02 385.5 L165.56 385.5 L165.56 385.5 L167.3 385.5 L167.3 385.5 L169.66 385.5 L169.66 385.5 L171.2 385.5 L171.2 385.5" fill="none" stroke="#a13543" stroke-width="1.45" stroke-linejoin="miter"/>
<path d="M68 383.28 v-1.8 M80 385.3 v-1.8 M95 385.5 v-1.8 M107 385.5 v-1.8 M126 385.5 v-1.8 M140 385.5 v-1.8 M147 385.5 v-1.8 M171 385.5 v-1.8 M127.81 385.5 v-1.8 M69.67 383.46 v-1.8 M131.09 385.5 v-1.8 M74.68 384.2 v-1.8 M92.14 385.5 v-1.8 M125.48 385.5 v-1.8 M83.74 385.39 v-1.8 M95.47 385.5 v-1.8" fill="none" stroke="#a13543" stroke-width="0.85"/>
<line x1="58.1" y1="294.4" x2="68.1" y2="294.4" stroke="#7baa5c" stroke-width="1.2"/>
<line x1="63.1" y1="294.4" x2="63.1" y2="292.5" stroke="#7baa5c" stroke-width="0.8"/>
<text x="71.2" y="295.6" font-size="7.9" textLength="146.8" lengthAdjust="spacingAndGlyphs">Favorable cytogenetic risk (median EFS=3.99y)</text>
<line x1="58.1" y1="305.4" x2="68.1" y2="305.4" stroke="#4e6282" stroke-width="1.2"/>
<line x1="63.1" y1="305.4" x2="63.1" y2="303.5" stroke="#4e6282" stroke-width="0.8"/>
<text x="71.2" y="306.9" font-size="7.9" textLength="153" lengthAdjust="spacingAndGlyphs">Intermediate cytogenetic risk (median EFS=0.7y)</text>
<line x1="58.1" y1="317.1" x2="68.1" y2="317.1" stroke="#a13543" stroke-width="1.2"/>
<line x1="63.1" y1="317.1" x2="63.1" y2="315.2" stroke="#a13543" stroke-width="0.8"/>
<text x="71.2" y="318.7" font-size="7.9" textLength="141.8" lengthAdjust="spacingAndGlyphs">Adverse cytogenetic risk (median EFS=0.46y)</text>
<text x="191.7" y="354.4" font-size="6.9" textLength="14" lengthAdjust="spacingAndGlyphs">40%</text>
<text x="190" y="378.3" font-size="6.9" textLength="13" lengthAdjust="spacingAndGlyphs">17%</text>
<text x="159.3" y="393.4" font-size="6.9" textLength="13.2" lengthAdjust="spacingAndGlyphs">15%</text>
<text x="56.4" y="398.7" font-size="7">X</text>
<text x="61.25" y="396.3" font-size="4.41">2</text>
<text x="63.65" y="398.7" font-size="7" textLength="50.1" lengthAdjust="spacingAndGlyphs">=74.8, P&lt;0.0001</text>
<text x="17.7" y="440.8" font-size="7.6" textLength="47.6" lengthAdjust="spacingAndGlyphs">Number at risk</text>
<line x1="17.7" y1="442.1" x2="65.3" y2="442.1" stroke="#1a1a1a" stroke-width="0.6"/>
<text x="17.7" y="452.2" font-size="7.1">PI</text>
<text x="24.66" y="449" font-size="5" class="sup">low</text>
<text x="32.16" y="452.2" font-size="7.1">:</text>
<text x="42.6" y="452.2" font-size="7.1" textLength="11.25" lengthAdjust="spacingAndGlyphs">201</text>
<text x="60" y="452.2" font-size="7.1" textLength="11.25" lengthAdjust="spacingAndGlyphs">112</text>
<text x="78.75" y="452.2" font-size="7.1" textLength="7.5" lengthAdjust="spacingAndGlyphs">94</text>
<text x="96.25" y="452.2" font-size="7.1" textLength="7.5" lengthAdjust="spacingAndGlyphs">74</text>
<text x="113.75" y="452.2" font-size="7.1" textLength="7.5" lengthAdjust="spacingAndGlyphs">56</text>
<text x="131.25" y="452.2" font-size="7.1" textLength="7.5" lengthAdjust="spacingAndGlyphs">47</text>
<text x="148.75" y="452.2" font-size="7.1" textLength="7.5" lengthAdjust="spacingAndGlyphs">23</text>
<text x="167.6" y="452.2" font-size="7.1" textLength="3.75" lengthAdjust="spacingAndGlyphs">9</text>
<text x="185.1" y="452.2" font-size="7.1" textLength="3.75" lengthAdjust="spacingAndGlyphs">4</text>
<text x="202.5" y="452.2" font-size="7.1" textLength="3.75" lengthAdjust="spacingAndGlyphs">1</text>
<text x="219.4" y="452.2" font-size="7.1" textLength="3.75" lengthAdjust="spacingAndGlyphs">0</text>
<text x="17.7" y="463.4" font-size="7.1">PI</text>
<text x="24.66" y="460.2" font-size="5" class="sup">int</text>
<text x="29.94" y="463.4" font-size="7.1">:</text>
<text x="42.6" y="463.4" font-size="7.1" textLength="11.25" lengthAdjust="spacingAndGlyphs">263</text>
<text x="60" y="463.4" font-size="7.1" textLength="7.5" lengthAdjust="spacingAndGlyphs">65</text>
<text x="78.75" y="463.4" font-size="7.1" textLength="7.5" lengthAdjust="spacingAndGlyphs">50</text>
<text x="96.25" y="463.4" font-size="7.1" textLength="7.5" lengthAdjust="spacingAndGlyphs">40</text>
<text x="113.75" y="463.4" font-size="7.1" textLength="7.5" lengthAdjust="spacingAndGlyphs">15</text>
<text x="131.25" y="463.4" font-size="7.1" textLength="7.5" lengthAdjust="spacingAndGlyphs">11</text>
<text x="148.75" y="463.4" font-size="7.1" textLength="3.75" lengthAdjust="spacingAndGlyphs">3</text>
<text x="167.6" y="463.4" font-size="7.1" textLength="3.75" lengthAdjust="spacingAndGlyphs">0</text>
<text x="185.1" y="463.4" font-size="7.1" textLength="3.75" lengthAdjust="spacingAndGlyphs">0</text>
<text x="202.5" y="463.4" font-size="7.1" textLength="3.75" lengthAdjust="spacingAndGlyphs">0</text>
<text x="219.4" y="463.4" font-size="7.1" textLength="3.75" lengthAdjust="spacingAndGlyphs">0</text>
<text x="17.7" y="475" font-size="7.1">PI</text>
<text x="24.66" y="471.81" font-size="5" class="sup">high</text>
<text x="32.44" y="475" font-size="7.1">:</text>
<text x="42.6" y="475" font-size="7.1" textLength="11.25" lengthAdjust="spacingAndGlyphs">126</text>
<text x="60" y="475" font-size="7.1" textLength="7.5" lengthAdjust="spacingAndGlyphs">24</text>
<text x="78.75" y="475" font-size="7.1" textLength="7.5" lengthAdjust="spacingAndGlyphs">20</text>
<text x="96.25" y="475" font-size="7.1" textLength="7.5" lengthAdjust="spacingAndGlyphs">13</text>
<text x="113.75" y="475" font-size="7.1" textLength="7.5" lengthAdjust="spacingAndGlyphs">10</text>
<text x="131.25" y="475" font-size="7.1" textLength="3.75" lengthAdjust="spacingAndGlyphs">9</text>
<text x="148.75" y="475" font-size="7.1" textLength="3.75" lengthAdjust="spacingAndGlyphs">3</text>
<text x="167.6" y="475" font-size="7.1" textLength="3.75" lengthAdjust="spacingAndGlyphs">2</text>
<text x="185.1" y="475" font-size="7.1" textLength="3.75" lengthAdjust="spacingAndGlyphs">0</text>
<text x="202.5" y="475" font-size="7.1" textLength="3.75" lengthAdjust="spacingAndGlyphs">0</text>
<text x="219.4" y="475" font-size="7.1" textLength="3.75" lengthAdjust="spacingAndGlyphs">0</text>
<line x1="48.35" y1="490.5" x2="48.35" y2="603.4" stroke="#1a1a1a" stroke-width="1.25"/>
<line x1="45.15" y1="602.7" x2="223.8" y2="602.7" stroke="#1a1a1a" stroke-width="1.45"/>
<line x1="45.15" y1="602.7" x2="48.35" y2="602.7" stroke="#1a1a1a" stroke-width="1"/>
<text x="42.45" y="604.9" font-size="7.7" text-anchor="end">0</text>
<line x1="45.15" y1="575.28" x2="48.35" y2="575.28" stroke="#1a1a1a" stroke-width="1"/>
<text x="42.45" y="577.48" font-size="7.7" text-anchor="end">25</text>
<line x1="45.15" y1="547.85" x2="48.35" y2="547.85" stroke="#1a1a1a" stroke-width="1"/>
<text x="42.45" y="550.05" font-size="7.7" text-anchor="end">50</text>
<line x1="45.15" y1="520.42" x2="48.35" y2="520.42" stroke="#1a1a1a" stroke-width="1"/>
<text x="42.45" y="522.62" font-size="7.7" text-anchor="end">75</text>
<line x1="45.15" y1="493" x2="48.35" y2="493" stroke="#1a1a1a" stroke-width="1"/>
<text x="42.45" y="495.2" font-size="7.7" text-anchor="end" textLength="12.2" lengthAdjust="spacingAndGlyphs">100</text>
<line x1="48.35" y1="602.7" x2="48.35" y2="605.7" stroke="#1a1a1a" stroke-width="1"/>
<text x="48.35" y="616.2" font-size="7.6" text-anchor="middle">0</text>
<line x1="65.64" y1="602.7" x2="65.64" y2="605.7" stroke="#1a1a1a" stroke-width="1"/>
<text x="65.64" y="616.2" font-size="7.6" text-anchor="middle">2</text>
<line x1="82.93" y1="602.7" x2="82.93" y2="605.7" stroke="#1a1a1a" stroke-width="1"/>
<text x="82.93" y="616.2" font-size="7.6" text-anchor="middle">4</text>
<line x1="100.22" y1="602.7" x2="100.22" y2="605.7" stroke="#1a1a1a" stroke-width="1"/>
<text x="100.22" y="616.2" font-size="7.6" text-anchor="middle">6</text>
<line x1="117.51" y1="602.7" x2="117.51" y2="605.7" stroke="#1a1a1a" stroke-width="1"/>
<text x="117.51" y="616.2" font-size="7.6" text-anchor="middle">8</text>
<line x1="134.8" y1="602.7" x2="134.8" y2="605.7" stroke="#1a1a1a" stroke-width="1"/>
<text x="134.8" y="616.2" font-size="7.6" text-anchor="middle">10</text>
<line x1="152.09" y1="602.7" x2="152.09" y2="605.7" stroke="#1a1a1a" stroke-width="1"/>
<text x="152.09" y="616.2" font-size="7.6" text-anchor="middle">12</text>
<line x1="169.38" y1="602.7" x2="169.38" y2="605.7" stroke="#1a1a1a" stroke-width="1"/>
<text x="169.38" y="616.2" font-size="7.6" text-anchor="middle">14</text>
<line x1="186.67" y1="602.7" x2="186.67" y2="605.7" stroke="#1a1a1a" stroke-width="1"/>
<text x="186.67" y="616.2" font-size="7.6" text-anchor="middle">16</text>
<line x1="203.96" y1="602.7" x2="203.96" y2="605.7" stroke="#1a1a1a" stroke-width="1"/>
<text x="203.96" y="616.2" font-size="7.6" text-anchor="middle">18</text>
<line x1="221.25" y1="602.7" x2="221.25" y2="605.7" stroke="#1a1a1a" stroke-width="1"/>
<text x="221.25" y="616.2" font-size="7.6" text-anchor="middle">20</text>
<text x="80.5" y="629.6" font-size="9.7" textLength="111.5" lengthAdjust="spacingAndGlyphs">Overall survival time (years)</text>
<text transform="translate(22.6 546.35) rotate(-90)" font-size="10.1" text-anchor="middle" textLength="63.8" lengthAdjust="spacingAndGlyphs">Percent survival</text>
<line x1="48.35" y1="547.85" x2="220.5" y2="547.85" stroke="#3a3a3a" stroke-width="1.25" stroke-dasharray="2.7 2.3" stroke-dashoffset="3.75"/>
<path d="M48.35 492.6 L49.24 492.6 L49.24 498.91 L50.03 498.91 L50.03 501.18 L50.7 501.18 L50.7 502.61 L51.42 502.61 L51.42 504.09 L51.78 504.09 L51.78 504.43 L52.6 504.43 L52.6 505.84 L53.03 505.84 L53.03 505.99 L53.67 505.99 L53.67 506.48 L55.57 506.48 L55.57 509.88 L56.43 509.88 L56.43 510.97 L56.96 510.97 L56.96 512.13 L57.8 512.13 L57.8 514.43 L58.67 514.43 L58.67 516.22 L59.45 516.22 L59.45 517.69 L60.24 517.69 L60.24 518.94 L60.88 518.94 L60.88 519.79 L61.27 519.79 L61.27 520.2 L61.69 520.2 L61.69 520.84 L62.43 520.84 L62.43 522.2 L63.23 522.2 L63.23 523.45 L63.98 523.45 L63.98 524.53 L64.58 524.53 L64.58 525.31 L65.43 525.31 L65.43 526.36 L65.78 526.36 L65.78 526.46 L66.52 526.46 L66.52 527.38 L66.91 527.38 L66.91 527.61 L67.62 527.61 L67.62 528.48 L68.5 528.48 L68.5 529.38 L69.17 529.38 L69.17 529.76 L69.79 529.76 L69.79 530.15 L70.23 530.15 L70.23 530.38 L70.68 530.38 L70.68 530.69 L71.09 530.69 L71.09 530.95 L71.66 530.95 L71.66 531.38 L72.47 531.38 L72.47 531.89 L73.72 531.89 L73.72 532.43 L75.19 532.43 L75.19 533.02 L77.01 533.02 L77.01 533.76 L78.47 533.76 L78.47 534.24 L79.69 534.24 L79.69 534.67 L82.28 534.67 L82.28 535.71 L83.5 535.71 L83.5 535.82 L85.1 535.82 L85.1 536.18 L87.09 536.18 L87.09 536.62 L89.27 536.62 L89.27 536.92 L90.89 536.92 L90.89 537.06 L92.63 537.06 L92.63 537.24 L94.95 537.24 L94.95 537.61 L96 537.61 L96 537.69 L97.88 537.69 L97.88 538.13 L99.91 538.13 L99.91 538.54 L100.81 538.54 L100.81 538.6 L102.79 538.6 L102.79 538.88 L105.03 538.88 L105.03 539.15 L107.27 539.15 L107.27 539.31 L108.82 539.31 L108.82 539.32 L110.06 539.32 L110.06 539.33 L111.33 539.33 L111.33 539.34 L112.49 539.34 L112.49 539.34 L114.24 539.34 L114.24 539.36 L116.21 539.36 L116.21 539.38 L118.51 539.38 L118.51 539.4 L120.68 539.4 L120.68 541 L122.74 541 L122.74 541 L124.62 541 L124.62 541 L126.52 541 L126.52 542.5 L127.44 542.5 L127.44 542.5 L129 542.5 L129 542.5 L130.89 542.5 L130.89 542.5 L132.79 542.5 L132.79 542.5 L134.58 542.5 L134.58 542.5 L136.61 542.5 L136.61 542.5 L137.81 542.5 L137.81 542.5 L139.1 542.5 L139.1 542.5 L141.24 542.5 L141.24 542.5 L143.78 542.5 L143.78 544 L145.88 544 L145.88 544 L147.35 544 L147.35 544 L148.17 544 L148.17 544 L149.99 544 L149.99 544 L151.22 544 L151.22 544 L152.26 544 L152.26 544 L152.87 544 L152.87 544.41 L153.49 544.41 L153.49 546.25 L154.86 546.25 L154.86 546.25 L157.18 546.25 L157.18 546.25 L159.13 546.25 L159.13 546.25 L160.32 546.25 L160.32 546.25 L162.43 546.25 L162.43 546.25 L164.42 546.25 L164.42 546.25 L165.99 546.25 L165.99 546.25 L167.14 546.25 L167.14 546.25 L169.57 546.25 L169.57 546.25 L170.73 546.25 L170.73 546.25 L172.48 546.25 L172.48 546.25 L174.9 546.25 L174.9 546.25 L175.99 546.25 L175.99 546.25 L177.48 546.25 L177.48 546.25 L178.89 546.25 L178.89 546.25 L180.86 546.25 L180.86 546.25 L183.3 546.25 L183.3 546.25 L185.19 546.25 L185.19 546.25 L187.17 546.25 L187.17 546.25 L188.24 546.25 L188.24 546.25 L189.55 546.25 L189.55 546.25 L192.08 546.25 L192.08 546.25 L193.53 546.25 L193.53 546.25 L195.08 546.25 L195.08 546.25 L196.55 546.25 L196.55 546.25 L198.28 546.25 L198.28 546.25 L199.19 546.25 L199.19 546.25 L200.66 546.25 L200.66 546.25 L202.15 546.25 L202.15 546.25 L203.72 546.25 L203.72 546.25 L204.88 546.25 L204.88 546.25 L207.34 546.25 L207.34 546.25 L209.76 546.25 L209.76 546.25 L210 546.25 L210 546.25" fill="none" stroke="#7baa5c" stroke-width="1.45" stroke-linejoin="miter"/>
<path d="M60 518 v-1.8 M66 526.5 v-1.8 M75 532.67 v-1.8 M80 534.55 v-1.8 M84 535.8 v-1.8 M90 536.88 v-1.8 M96 537.59 v-1.8 M100 538.36 v-1.8 M104 538.91 v-1.8 M108 539.3 v-1.8 M112 539.34 v-1.8 M116 539.37 v-1.8 M120 539.4 v-1.8 M124 541 v-1.8 M127 542.5 v-1.8 M131 542.5 v-1.8 M136 542.5 v-1.8 M140 542.5 v-1.8 M145 544 v-1.8 M150 544 v-1.8 M158 546.25 v-1.8 M162 546.25 v-1.8 M168 546.25 v-1.8 M175 546.25 v-1.8 M180 546.25 v-1.8 M184 546.25 v-1.8 M186 546.25 v-1.8 M195 546.25 v-1.8 M200 546.25 v-1.8 M205 546.25 v-1.8 M209 546.25 v-1.8 M98.56 538.08 v-1.8 M66.51 527.01 v-1.8 M111.14 539.33 v-1.8 M79.62 534.41 v-1.8 M128.6 542.5 v-1.8 M71.19 530.88 v-1.8 M115.02 539.36 v-1.8 M69.1 529.49 v-1.8 M130.74 542.5 v-1.8 M123.62 541 v-1.8 M64.63 524.94 v-1.8 M106.35 539.17 v-1.8 M73.14 531.99 v-1.8 M95.74 537.54 v-1.8 M121.82 541 v-1.8 M68.28 528.78 v-1.8 M73.07 531.96 v-1.8 M62 520.99 v-1.8 M61.24 519.86 v-1.8 M94.76 537.38 v-1.8 M68.9 529.35 v-1.8 M66.27 526.77 v-1.8" fill="none" stroke="#7baa5c" stroke-width="0.85"/>
<path d="M48.35 498.6 L48.74 498.6 L48.74 502.17 L49.49 502.17 L49.49 507.84 L49.86 507.84 L49.86 508.86 L50.5 508.86 L50.5 512.56 L51.3 512.56 L51.3 516.64 L52.2 516.64 L52.2 522.5 L52.68 522.5 L52.68 524.41 L53.14 524.41 L53.14 527.54 L53.73 527.54 L53.73 532.16 L54.33 532.16 L54.33 536.59 L54.68 536.59 L54.68 538.24 L55.49 538.24 L55.49 544.58 L56.29 544.58 L56.29 548.54 L57.15 548.54 L57.15 550.99 L57.74 550.99 L57.74 552.26 L58.11 552.26 L58.11 553.01 L58.76 553.01 L58.76 554.97 L59.26 554.97 L59.26 556.01 L59.68 556.01 L59.68 557 L60.58 557 L60.58 559.44 L61.45 559.44 L61.45 560.79 L61.86 560.79 L61.86 561.07 L62.54 561.07 L62.54 562.37 L63.39 562.37 L63.39 563.78 L64.16 563.78 L64.16 564.15 L65.13 564.15 L65.13 564.69 L66.4 564.69 L66.4 565.41 L67.53 565.41 L67.53 565.94 L69.22 565.94 L69.22 566.93 L71.72 566.93 L71.72 568.37 L73.23 568.37 L73.23 568.87 L74.51 568.87 L74.51 569.46 L75.37 569.46 L75.37 569.78 L77.19 569.78 L77.19 570.74 L78.45 570.74 L78.45 571.13 L80.26 571.13 L80.26 571.97 L81.65 571.97 L81.65 572.44 L83.76 572.44 L83.76 573.2 L86.08 573.2 L86.08 573.94 L88.36 573.94 L88.36 574.5 L90.05 574.5 L90.05 574.69 L91.04 574.69 L91.04 574.78 L92.63 574.78 L92.63 575.04 L94.47 575.04 L94.47 575.3 L96.58 575.3 L96.58 575.57 L97.45 575.57 L97.45 575.6 L98.75 575.6 L98.75 575.78 L99.85 575.78 L99.85 575.9 L100.69 575.9 L100.69 575.98 L102.59 575.98 L102.59 576.13 L104.65 576.13 L104.65 576.25 L105.6 576.25 L105.6 576.28 L107.95 576.28 L107.95 576.45 L110.21 576.45 L110.21 578.1 L111.04 578.1 L111.04 578.1 L113.36 578.1 L113.36 578.1 L114.81 578.1 L114.81 578.1 L117.29 578.1 L117.29 578.1 L118.2 578.1 L118.2 578.1 L119.96 578.1 L119.96 578.1 L120.85 578.1 L120.85 578.1 L122.99 578.1 L122.99 578.1 L124.32 578.1 L124.32 578.1 L126.5 578.1 L126.5 578.1 L127.9 578.1 L127.9 578.1 L129.11 578.1 L129.11 578.1 L131.18 578.1 L131.18 578.1 L132.68 578.1 L132.68 578.1 L134.11 578.1 L134.11 578.1 L135.71 578.1 L135.71 578.1 L137.94 578.1 L137.94 578.1 L139.56 578.1 L139.56 578.1 L140.8 578.1 L140.8 578.1 L141.87 578.1 L141.87 578.1 L143.84 578.1 L143.84 578.1 L145.06 578.1 L145.06 578.1 L147.03 578.1 L147.03 578.1 L149.16 578.1 L149.16 578.1 L151.67 578.1 L151.67 578.1 L152.55 578.1 L152.55 578.1 L154.55 578.1 L154.55 578.1 L157.09 578.1 L157.09 578.1 L158.66 578.1 L158.66 578.1 L160.07 578.1 L160.07 578.1 L161.84 578.1 L161.84 578.1 L162.85 578.1 L162.85 578.1 L163.96 578.1 L163.96 578.1 L166.55 578.1 L166.55 578.1 L168.62 578.1 L168.62 578.1 L171.09 578.1 L171.09 578.1 L173.1 578.1 L173.1 578.1 L175.06 578.1 L175.06 578.1 L176.05 578.1 L176.05 578.1 L178.48 578.1 L178.48 578.1 L180.86 578.1 L180.86 578.1 L181.82 578.1 L181.82 578.1 L183.53 578.1 L183.53 578.1 L184.48 578.1 L184.48 578.1 L185.92 578.1 L185.92 578.1 L186.79 578.1 L186.79 578.1 L188.4 578.1 L188.4 578.1 L189.89 578.1 L189.89 578.1 L191.75 578.1 L191.75 578.1 L193.06 578.1 L193.06 578.1 L194.41 578.1 L194.41 578.1 L196.6 578.1 L196.6 578.1 L198.28 578.1 L198.28 578.1 L199.47 578.1 L199.47 578.1 L200.5 578.1 L200.5 578.1" fill="none" stroke="#4e6282" stroke-width="1.45" stroke-linejoin="miter"/>
<path d="M64 563.88 v-1.8 M70 566.9 v-1.8 M75 569.38 v-1.8 M80 571.5 v-1.8 M86 573.56 v-1.8 M92 574.84 v-1.8 M98 575.61 v-1.8 M103 576.1 v-1.8 M108 576.39 v-1.8 M113 578.1 v-1.8 M118 578.1 v-1.8 M124 578.1 v-1.8 M127 578.1 v-1.8 M131 578.1 v-1.8 M134 578.1 v-1.8 M137 578.1 v-1.8 M140 578.1 v-1.8 M146 578.1 v-1.8 M150 578.1 v-1.8 M160 578.1 v-1.8 M172 578.1 v-1.8 M180 578.1 v-1.8 M200.3 578.1 v-1.8 M63.31 563.05 v-1.8 M129.55 578.1 v-1.8 M67.9 565.84 v-1.8 M113.28 578.1 v-1.8 M121.13 578.1 v-1.8 M113.88 578.1 v-1.8 M79.6 571.34 v-1.8 M83.43 572.78 v-1.8 M111.93 578.1 v-1.8 M130.7 578.1 v-1.8 M107.37 576.35 v-1.8 M97.97 575.61 v-1.8 M86.22 573.63 v-1.8 M87.59 574.05 v-1.8 M111.72 578.1 v-1.8 M89.37 574.48 v-1.8 M97.48 575.55 v-1.8 M104.93 576.21 v-1.8 M105.05 576.22 v-1.8 M59.51 556.02 v-1.8 M74.11 568.94 v-1.8 M110.69 578.1 v-1.8" fill="none" stroke="#4e6282" stroke-width="0.85"/>
<path d="M48.35 500.5 L49.09 500.5 L49.09 508.95 L49.61 508.95 L49.61 511.97 L50.06 511.97 L50.06 514.69 L50.86 514.69 L50.86 520.48 L51.42 520.48 L51.42 523.08 L51.85 523.08 L51.85 525.24 L52.36 525.24 L52.36 528.74 L53.13 528.74 L53.13 534.36 L54.03 534.36 L54.03 541.2 L54.76 541.2 L54.76 546.23 L55.51 546.23 L55.51 550.65 L56.37 550.65 L56.37 555.36 L56.94 555.36 L56.94 557.46 L57.5 557.46 L57.5 559.84 L58.33 559.84 L58.33 563.77 L58.86 563.77 L58.86 565.23 L59.26 565.23 L59.26 566.59 L59.73 566.59 L59.73 568.58 L60.59 568.58 L60.59 570.29 L61.17 570.29 L61.17 570.94 L61.7 570.94 L61.7 571.72 L62.09 571.72 L62.09 572.19 L62.8 572.19 L62.8 573.5 L63.34 573.5 L63.34 574.19 L63.73 574.19 L63.73 574.51 L64.33 574.51 L64.33 574.94 L65.09 574.94 L65.09 575.46 L65.8 575.46 L65.8 575.89 L66.46 575.89 L66.46 576.29 L66.82 576.29 L66.82 576.42 L67.53 576.42 L67.53 576.96 L68.2 576.96 L68.2 577.36 L70.67 577.36 L70.67 578.03 L71.64 578.03 L71.64 578.06 L74.2 578.06 L74.2 578.62 L76.7 578.62 L76.7 579.09 L78.12 579.09 L78.12 579.27 L79.61 579.27 L79.61 579.57 L81.49 579.57 L81.49 579.99 L82.62 579.99 L82.62 580.07 L83.59 580.07 L83.59 580.15 L84.63 580.15 L84.63 580.25 L85.68 580.25 L85.68 580.36 L87.51 580.36 L87.51 580.57 L88.97 580.57 L88.97 580.66 L91.29 580.66 L91.29 580.84 L92.77 580.84 L92.77 580.9 L93.62 580.9 L93.62 580.94 L95.15 580.94 L95.15 581.52 L97.11 581.52 L97.11 582.73 L99.01 582.73 L99.01 583.17 L100.19 583.17 L100.19 583.22 L102.21 583.22 L102.21 583.36 L103.02 583.36 L103.02 583.37 L105.48 583.37 L105.48 583.56 L106.37 583.56 L106.37 583.57 L108.02 583.57 L108.02 583.68 L109.94 583.68 L109.94 583.75 L112.16 583.75 L112.16 583.75 L114.16 583.75 L114.16 583.75 L116.44 583.75 L116.44 583.75 L117.56 583.75 L117.56 583.75 L118.4 583.75 L118.4 583.75 L119.32 583.75 L119.32 583.75 L120.57 583.75 L120.57 583.75 L122.38 583.75 L122.38 583.75 L124.95 583.75 L124.95 583.75 L126.49 583.75 L126.49 583.75 L128.4 583.75 L128.4 583.75 L129.23 583.75 L129.23 583.75 L130.71 583.75 L130.71 583.75 L132.97 583.75 L132.97 583.75 L135.33 583.75 L135.33 583.75 L136.99 583.75 L136.99 583.75 L138.98 583.75 L138.98 583.75 L139.93 583.75 L139.93 583.75 L141.31 583.75 L141.31 583.75 L142.67 583.75 L142.67 583.75 L144.33 583.75 L144.33 583.75 L146.37 583.75 L146.37 583.75 L147.88 583.75 L147.88 583.75 L148.85 583.75 L148.85 583.75 L150.61 583.75 L150.61 583.75 L153.08 583.75 L153.08 583.75 L155.14 583.75 L155.14 583.75 L156.98 583.75 L156.98 583.75 L159.18 583.75 L159.18 583.75 L160.16 583.75 L160.16 583.75 L162.23 583.75 L162.23 583.75 L163.15 583.75 L163.15 583.75 L165.49 583.75 L165.49 583.75 L167.29 583.75 L167.29 583.75 L169.82 583.75 L169.82 583.75 L170.5 583.75 L170.5 583.75" fill="none" stroke="#a13543" stroke-width="1.45" stroke-linejoin="miter"/>
<path d="M66 575.79 v-1.8 M72 578.04 v-1.8 M82 579.9 v-1.8 M93 580.87 v-1.8 M106 583.52 v-1.8 M116 583.75 v-1.8 M126 583.75 v-1.8 M137 583.75 v-1.8 M140 583.75 v-1.8 M147 583.75 v-1.8 M160 583.75 v-1.8 M170.3 583.75 v-1.8 M127.81 583.75 v-1.8 M69.67 577.65 v-1.8 M131.09 583.75 v-1.8 M74.68 578.49 v-1.8 M92.14 580.82 v-1.8 M125.48 583.75 v-1.8 M83.74 580.12 v-1.8 M95.47 581.26 v-1.8" fill="none" stroke="#a13543" stroke-width="0.85"/>
<line x1="63.6" y1="494" x2="73.6" y2="494" stroke="#7baa5c" stroke-width="1.2"/>
<line x1="68.6" y1="494" x2="68.6" y2="492.1" stroke="#7baa5c" stroke-width="0.8"/>
<text x="76.9" y="495.3" font-size="7.9" textLength="160" lengthAdjust="spacingAndGlyphs">Favorable cytogenetic risk (median OS=undefined)</text>
<line x1="63.6" y1="505.6" x2="73.6" y2="505.6" stroke="#4e6282" stroke-width="1.2"/>
<line x1="68.6" y1="505.6" x2="68.6" y2="503.7" stroke="#4e6282" stroke-width="0.8"/>
<text x="76.9" y="506.9" font-size="7.9" textLength="154.8" lengthAdjust="spacingAndGlyphs">Intermediate cytogenetic risk (median OS=1.08y)</text>
<line x1="63.6" y1="517.2" x2="73.6" y2="517.2" stroke="#a13543" stroke-width="1.2"/>
<line x1="68.6" y1="517.2" x2="68.6" y2="515.3" stroke="#a13543" stroke-width="0.8"/>
<text x="76.9" y="518.7" font-size="7.9" textLength="139.3" lengthAdjust="spacingAndGlyphs">Adverse cytogenetic risk (median OS=0.88y)</text>
<text x="192.5" y="542.6" font-size="6.9" textLength="20" lengthAdjust="spacingAndGlyphs">51.3%</text>
<text x="187" y="574.5" font-size="6.9" textLength="13.5" lengthAdjust="spacingAndGlyphs">22%</text>
<text x="155" y="592.5" font-size="6.9" textLength="19.5" lengthAdjust="spacingAndGlyphs">17.5%</text>
<text x="56.4" y="596.5" font-size="7">X</text>
<text x="61.25" y="594.1" font-size="4.41">2</text>
<text x="63.65" y="596.5" font-size="7" textLength="46.3" lengthAdjust="spacingAndGlyphs">=80.7, P&lt;0.001</text>
<text x="17.7" y="641.8" font-size="7.6" textLength="47.6" lengthAdjust="spacingAndGlyphs">Number at risk</text>
<line x1="17.7" y1="643.1" x2="65.3" y2="643.1" stroke="#1a1a1a" stroke-width="0.6"/>
<text x="17.7" y="653.2" font-size="7.1">PI</text>
<text x="24.66" y="650" font-size="5" class="sup">low</text>
<text x="32.16" y="653.2" font-size="7.1">:</text>
<text x="42.6" y="653.2" font-size="7.1" textLength="11.25" lengthAdjust="spacingAndGlyphs">201</text>
<text x="60" y="653.2" font-size="7.1" textLength="11.25" lengthAdjust="spacingAndGlyphs">136</text>
<text x="78.75" y="653.2" font-size="7.1" textLength="11.25" lengthAdjust="spacingAndGlyphs">116</text>
<text x="96.25" y="653.2" font-size="7.1" textLength="7.5" lengthAdjust="spacingAndGlyphs">92</text>
<text x="113.75" y="653.2" font-size="7.1" textLength="7.5" lengthAdjust="spacingAndGlyphs">72</text>
<text x="131.25" y="653.2" font-size="7.1" textLength="7.5" lengthAdjust="spacingAndGlyphs">58</text>
<text x="148.75" y="653.2" font-size="7.1" textLength="7.5" lengthAdjust="spacingAndGlyphs">28</text>
<text x="167.6" y="653.2" font-size="7.1" textLength="7.5" lengthAdjust="spacingAndGlyphs">13</text>
<text x="185.1" y="653.2" font-size="7.1" textLength="3.75" lengthAdjust="spacingAndGlyphs">6</text>
<text x="202.5" y="653.2" font-size="7.1" textLength="3.75" lengthAdjust="spacingAndGlyphs">1</text>
<text x="219.4" y="653.2" font-size="7.1" textLength="3.75" lengthAdjust="spacingAndGlyphs">0</text>
<text x="17.7" y="664.9" font-size="7.1">PI</text>
<text x="24.66" y="661.7" font-size="5" class="sup">int</text>
<text x="29.94" y="664.9" font-size="7.1">:</text>
<text x="42.6" y="664.9" font-size="7.1" textLength="11.25" lengthAdjust="spacingAndGlyphs">263</text>
<text x="60" y="664.9" font-size="7.1" textLength="7.5" lengthAdjust="spacingAndGlyphs">90</text>
<text x="78.75" y="664.9" font-size="7.1" textLength="7.5" lengthAdjust="spacingAndGlyphs">70</text>
<text x="96.25" y="664.9" font-size="7.1" textLength="7.5" lengthAdjust="spacingAndGlyphs">50</text>
<text x="113.75" y="664.9" font-size="7.1" textLength="7.5" lengthAdjust="spacingAndGlyphs">22</text>
<text x="131.25" y="664.9" font-size="7.1" textLength="7.5" lengthAdjust="spacingAndGlyphs">16</text>
<text x="148.75" y="664.9" font-size="7.1" textLength="3.75" lengthAdjust="spacingAndGlyphs">4</text>
<text x="167.6" y="664.9" font-size="7.1" textLength="3.75" lengthAdjust="spacingAndGlyphs">4</text>
<text x="185.1" y="664.9" font-size="7.1" textLength="3.75" lengthAdjust="spacingAndGlyphs">2</text>
<text x="202.5" y="664.9" font-size="7.1" textLength="3.75" lengthAdjust="spacingAndGlyphs">1</text>
<text x="219.4" y="664.9" font-size="7.1" textLength="3.75" lengthAdjust="spacingAndGlyphs">0</text>
<text x="17.7" y="676.2" font-size="7.1">PI</text>
<text x="24.66" y="673" font-size="5" class="sup">high</text>
<text x="32.44" y="676.2" font-size="7.1">:</text>
<text x="42.6" y="676.2" font-size="7.1" textLength="11.25" lengthAdjust="spacingAndGlyphs">126</text>
<text x="60" y="676.2" font-size="7.1" textLength="7.5" lengthAdjust="spacingAndGlyphs">33</text>
<text x="78.75" y="676.2" font-size="7.1" textLength="7.5" lengthAdjust="spacingAndGlyphs">27</text>
<text x="96.25" y="676.2" font-size="7.1" textLength="7.5" lengthAdjust="spacingAndGlyphs">16</text>
<text x="113.75" y="676.2" font-size="7.1" textLength="7.5" lengthAdjust="spacingAndGlyphs">10</text>
<text x="131.25" y="676.2" font-size="7.1" textLength="3.75" lengthAdjust="spacingAndGlyphs">9</text>
<text x="148.75" y="676.2" font-size="7.1" textLength="3.75" lengthAdjust="spacingAndGlyphs">3</text>
<text x="167.6" y="676.2" font-size="7.1" textLength="3.75" lengthAdjust="spacingAndGlyphs">2</text>
<text x="185.1" y="676.2" font-size="7.1" textLength="3.75" lengthAdjust="spacingAndGlyphs">1</text>
<text x="202.5" y="676.2" font-size="7.1" textLength="3.75" lengthAdjust="spacingAndGlyphs">0</text>
<text x="219.4" y="676.2" font-size="7.1" textLength="3.75" lengthAdjust="spacingAndGlyphs">0</text>
<text x="258.9" y="284.6" font-size="11.6" textLength="8.3" lengthAdjust="spacingAndGlyphs" class="big">G</text>
<line x1="292" y1="290" x2="292" y2="402.6" stroke="#1a1a1a" stroke-width="1.25"/>
<line x1="288.8" y1="401.9" x2="467.5" y2="401.9" stroke="#1a1a1a" stroke-width="1.45"/>
<line x1="288.8" y1="401.9" x2="292" y2="401.9" stroke="#1a1a1a" stroke-width="1"/>
<text x="286.1" y="404.1" font-size="7.7" text-anchor="end">0</text>
<line x1="288.8" y1="374.55" x2="292" y2="374.55" stroke="#1a1a1a" stroke-width="1"/>
<text x="286.1" y="376.75" font-size="7.7" text-anchor="end">25</text>
<line x1="288.8" y1="347.2" x2="292" y2="347.2" stroke="#1a1a1a" stroke-width="1"/>
<text x="286.1" y="349.4" font-size="7.7" text-anchor="end">50</text>
<line x1="288.8" y1="319.85" x2="292" y2="319.85" stroke="#1a1a1a" stroke-width="1"/>
<text x="286.1" y="322.05" font-size="7.7" text-anchor="end">75</text>
<line x1="288.8" y1="292.5" x2="292" y2="292.5" stroke="#1a1a1a" stroke-width="1"/>
<text x="286.1" y="294.7" font-size="7.7" text-anchor="end" textLength="12.2" lengthAdjust="spacingAndGlyphs">100</text>
<line x1="292" y1="401.9" x2="292" y2="404.9" stroke="#1a1a1a" stroke-width="1"/>
<text x="292" y="415.4" font-size="7.6" text-anchor="middle">0</text>
<line x1="309.29" y1="401.9" x2="309.29" y2="404.9" stroke="#1a1a1a" stroke-width="1"/>
<text x="309.29" y="415.4" font-size="7.6" text-anchor="middle">2</text>
<line x1="326.58" y1="401.9" x2="326.58" y2="404.9" stroke="#1a1a1a" stroke-width="1"/>
<text x="326.58" y="415.4" font-size="7.6" text-anchor="middle">4</text>
<line x1="343.87" y1="401.9" x2="343.87" y2="404.9" stroke="#1a1a1a" stroke-width="1"/>
<text x="343.87" y="415.4" font-size="7.6" text-anchor="middle">6</text>
<line x1="361.16" y1="401.9" x2="361.16" y2="404.9" stroke="#1a1a1a" stroke-width="1"/>
<text x="361.16" y="415.4" font-size="7.6" text-anchor="middle">8</text>
<line x1="378.45" y1="401.9" x2="378.45" y2="404.9" stroke="#1a1a1a" stroke-width="1"/>
<text x="378.45" y="415.4" font-size="7.6" text-anchor="middle">10</text>
<line x1="395.74" y1="401.9" x2="395.74" y2="404.9" stroke="#1a1a1a" stroke-width="1"/>
<text x="395.74" y="415.4" font-size="7.6" text-anchor="middle">12</text>
<line x1="413.03" y1="401.9" x2="413.03" y2="404.9" stroke="#1a1a1a" stroke-width="1"/>
<text x="413.03" y="415.4" font-size="7.6" text-anchor="middle">14</text>
<line x1="430.32" y1="401.9" x2="430.32" y2="404.9" stroke="#1a1a1a" stroke-width="1"/>
<text x="430.32" y="415.4" font-size="7.6" text-anchor="middle">16</text>
<line x1="447.61" y1="401.9" x2="447.61" y2="404.9" stroke="#1a1a1a" stroke-width="1"/>
<text x="447.61" y="415.4" font-size="7.6" text-anchor="middle">18</text>
<line x1="464.9" y1="401.9" x2="464.9" y2="404.9" stroke="#1a1a1a" stroke-width="1"/>
<text x="464.9" y="415.4" font-size="7.6" text-anchor="middle">20</text>
<text x="318" y="428.6" font-size="9.7" textLength="124.5" lengthAdjust="spacingAndGlyphs">Event-free survival time (years)</text>
<text transform="translate(266.6 345.7) rotate(-90)" font-size="10.1" text-anchor="middle" textLength="63.8" lengthAdjust="spacingAndGlyphs">Percent survival</text>
<line x1="292" y1="347.2" x2="464.5" y2="347.2" stroke="#3a3a3a" stroke-width="1.25" stroke-dasharray="3.0 2.26" stroke-dashoffset="0"/>
<path d="M292 292.5 L292.6 292.5 L292.6 296.13 L293.23 296.13 L293.23 298.7 L294.11 298.7 L294.11 302.82 L294.75 302.82 L294.75 304.87 L295.23 304.87 L295.23 306.41 L295.8 306.41 L295.8 308.89 L296.22 308.89 L296.22 310.2 L296.79 310.2 L296.79 312.83 L297.67 312.83 L297.67 316.93 L298.51 316.93 L298.51 320.25 L299.36 320.25 L299.36 322.54 L299.81 322.54 L299.81 323.24 L300.63 323.24 L300.63 326.07 L301.08 326.07 L301.08 327.12 L301.67 327.12 L301.67 329.8 L302.24 329.8 L302.24 332.09 L303.14 332.09 L303.14 333.86 L303.97 333.86 L303.97 334.68 L304.6 334.68 L304.6 335.15 L305.19 335.15 L305.19 335.6 L305.71 335.6 L305.71 335.99 L306.52 335.99 L306.52 336.74 L306.92 336.74 L306.92 336.9 L307.78 336.9 L307.78 337.45 L309.54 337.45 L309.54 337.69 L311.76 337.69 L311.76 339.28 L312.64 339.28 L312.64 339.51 L313.09 339.51 L313.09 339.76 L313.68 339.76 L313.68 340.47 L314.24 340.47 L314.24 340.7 L316.61 340.7 L316.61 341.94 L319.18 341.94 L319.18 342.94 L320.28 342.94 L320.28 343.08 L322.23 343.08 L322.23 343.96 L323.3 343.96 L323.3 344.19 L324.9 344.19 L324.9 344.59 L327.43 344.59 L327.43 345.19 L328.8 345.19 L328.8 345.35 L330.56 345.35 L330.56 345.86 L332.51 345.86 L332.51 346.48 L334.46 346.48 L334.46 347.08 L335.79 347.08 L335.79 347.39 L337.75 347.39 L337.75 347.55 L339.09 347.55 L339.09 347.62 L341.18 347.62 L341.18 347.78 L342 347.78 L342 347.79 L344.4 347.79 L344.4 348.19 L346.16 348.19 L346.16 348.45 L347.21 348.45 L347.21 348.57 L349.64 348.57 L349.64 349.13 L352.19 349.13 L352.19 349.27 L353.68 349.27 L353.68 349.27 L355.34 349.27 L355.34 349.29 L356.8 349.29 L356.8 349.3 L357.68 349.3 L357.68 349.3 L359.49 349.3 L359.49 349.32 L361.87 349.32 L361.87 349.34 L364.31 349.34 L364.31 349.36 L365.75 349.36 L365.75 349.37 L367.78 349.37 L367.78 349.39 L369.47 349.39 L369.47 351 L370.24 351 L370.24 351 L372.31 351 L372.31 351 L374.57 351 L374.57 351 L376.04 351 L376.04 351 L378.51 351 L378.51 351 L381.08 351 L381.08 351 L383.61 351 L383.61 351 L386.01 351 L386.01 353.1 L386.98 353.1 L386.98 353.1 L387.48 353.1 L387.48 353.1 L389.99 353.1 L389.99 353.1 L391.41 353.1 L391.41 353.1 L393.12 353.1 L393.12 353.1 L394.56 353.1 L394.56 353.1 L396.97 353.1 L396.97 355.4 L397.45 355.4 L397.45 355.4 L398.43 355.4 L398.43 355.4 L399.91 355.4 L399.91 355.4 L401.87 355.4 L401.87 355.4 L402.79 355.4 L402.79 355.4 L404.17 355.4 L404.17 355.4 L405.67 355.4 L405.67 355.4 L407.61 355.4 L407.61 355.4 L410.02 355.4 L410.02 355.4 L411.52 355.4 L411.52 355.4 L413.9 355.4 L413.9 355.4 L415.21 355.4 L415.21 355.4 L417.3 355.4 L417.3 355.4 L419.53 355.4 L419.53 355.4 L422.11 355.4 L422.11 355.4 L423.18 355.4 L423.18 355.4 L424 355.4 L424 355.4 L426.43 355.4 L426.43 355.4 L428.24 355.4 L428.24 355.4 L430.58 355.4 L430.58 355.4 L433.14 355.4 L433.14 355.4 L434.3 355.4 L434.3 355.4 L436.44 355.4 L436.44 355.4 L438.22 355.4 L438.22 355.4 L439.32 355.4 L439.32 355.4 L441.86 355.4 L441.86 355.4 L443.22 355.4 L443.22 355.4 L445.07 355.4 L445.07 355.4 L446.75 355.4 L446.75 355.4" fill="none" stroke="#7baa5c" stroke-width="1.45" stroke-linejoin="miter"/>
<path d="M355 349.28 v-1.8 M360 349.32 v-1.8 M364 349.35 v-1.8 M368 349.38 v-1.8 M372 351 v-1.8 M375 351 v-1.8 M378 351 v-1.8 M381 351 v-1.8 M384 351 v-1.8 M388 353.1 v-1.8 M392 353.1 v-1.8 M395 353.1 v-1.8 M399 355.4 v-1.8 M403 355.4 v-1.8 M407 355.4 v-1.8 M410 355.4 v-1.8 M416 355.4 v-1.8 M421 355.4 v-1.8 M428 355.4 v-1.8 M436 355.4 v-1.8 M446.5 355.4 v-1.8 M359.14 349.31 v-1.8 M358.95 349.31 v-1.8 M311.55 337.85 v-1.8 M364.46 349.36 v-1.8 M314.79 340.8 v-1.8 M370.54 351 v-1.8 M344.61 348.01 v-1.8 M324.91 344.43 v-1.8 M365.88 349.37 v-1.8 M371.45 351 v-1.8 M332.37 346.14 v-1.8 M348.28 348.67 v-1.8 M309.46 337.58 v-1.8 M344.3 347.95 v-1.8 M341.42 347.73 v-1.8 M336.5 347.4 v-1.8 M314.21 340.58 v-1.8 M348.29 348.67 v-1.8 M333.76 346.57 v-1.8 M307.42 337.14 v-1.8 M372.57 351 v-1.8 M349.82 348.95 v-1.8" fill="none" stroke="#7baa5c" stroke-width="0.85"/>
<path d="M292 298 L292.82 298 L292.82 306.32 L293.61 306.32 L293.61 311.58 L294.02 311.58 L294.02 313.16 L294.67 313.16 L294.67 318.56 L295.2 318.56 L295.2 321.61 L295.58 321.61 L295.58 323.66 L296.21 323.66 L296.21 328.67 L296.7 328.67 L296.7 331.54 L297.35 331.54 L297.35 336.93 L298.13 336.93 L298.13 343.11 L298.97 343.11 L298.97 348.61 L299.49 348.61 L299.49 350.87 L300.3 350.87 L300.3 354.79 L300.83 354.79 L300.83 355.61 L301.33 355.61 L301.33 356.63 L302.21 356.63 L302.21 358.81 L302.74 358.81 L302.74 359.27 L303.42 359.27 L303.42 360.21 L304.3 360.21 L304.3 361.42 L304.82 361.42 L304.82 361.85 L305.51 361.85 L305.51 362.7 L306.13 362.7 L306.13 363.17 L306.96 363.17 L306.96 363.9 L307.77 363.9 L307.77 364.55 L308.55 364.55 L308.55 365.15 L309.15 365.15 L309.15 365.56 L310.14 365.56 L310.14 365.91 L312.73 365.91 L312.73 366.83 L314.37 366.83 L314.37 367.14 L315.71 367.14 L315.71 367.47 L316.87 367.47 L316.87 367.79 L317.96 367.79 L317.96 368.11 L320.4 368.11 L320.4 369.06 L322.51 369.06 L322.51 369.56 L323.45 369.56 L323.45 369.62 L324.62 369.62 L324.62 369.87 L325.96 369.87 L325.96 370.15 L327.38 370.15 L327.38 370.42 L329.44 370.42 L329.44 370.73 L331.39 370.73 L331.39 370.89 L332.28 370.89 L332.28 370.92 L334.39 370.92 L334.39 371.16 L335.94 371.16 L335.94 371.27 L337.29 371.27 L337.29 371.38 L338.63 371.38 L338.63 371.49 L339.8 371.49 L339.8 371.59 L340.9 371.59 L340.9 371.68 L343.4 371.68 L343.4 371.98 L344.86 371.98 L344.86 372.09 L347.2 372.09 L347.2 372.42 L349.05 372.42 L349.05 372.62 L350.03 372.62 L350.03 372.68 L351.12 372.68 L351.12 372.82 L352.2 372.82 L352.2 372.95 L354.33 372.95 L354.33 373.1 L356.53 373.1 L356.53 373.1 L357.43 373.1 L357.43 373.1 L359.92 373.1 L359.92 373.1 L361.11 373.1 L361.11 373.1 L363.05 373.1 L363.05 373.27 L365.2 373.27 L365.2 375 L366.18 375 L366.18 375 L367.77 375 L367.77 375 L370.07 375 L370.07 375 L371.88 375 L371.88 375 L373.01 375 L373.01 375 L374.32 375 L374.32 375 L375.88 375 L375.88 375 L377.33 375 L377.33 375 L379.41 375 L379.41 375 L380.85 375 L380.85 375 L382.74 375 L382.74 375 L385.04 375 L385.04 375 L386.78 375 L386.78 375 L389.05 375 L389.05 375 L390.98 375 L390.98 375 L391.93 375 L391.93 375 L393.87 375 L393.87 375 L396.44 375 L396.44 375 L398.58 375 L398.58 375 L400.1 375 L400.1 375 L401.17 375 L401.17 375 L402.94 375 L402.94 375 L404.12 375 L404.12 375 L406.27 375 L406.27 375 L408.3 375 L408.3 375 L409.65 375 L409.65 375 L410.51 375 L410.51 375 L411.66 375 L411.66 375 L413.08 375 L413.08 375 L414.76 375 L414.76 375 L416.05 375 L416.05 375 L418.41 375 L418.41 375 L420.78 375 L420.78 375 L422.7 375 L422.7 375 L424.07 375 L424.07 375 L425.42 375 L425.42 375 L426.31 375 L426.31 375 L427.97 375 L427.97 375 L429.01 375 L429.01 375 L431.43 375 L431.43 375 L433.88 375 L433.88 375 L435.5 375 L435.5 375" fill="none" stroke="#4e6282" stroke-width="1.45" stroke-linejoin="miter"/>
<path d="M352 372.86 v-1.8 M357 373.1 v-1.8 M361 373.1 v-1.8 M366 375 v-1.8 M370 375 v-1.8 M374 375 v-1.8 M378 375 v-1.8 M382 375 v-1.8 M385 375 v-1.8 M388 375 v-1.8 M392 375 v-1.8 M397 375 v-1.8 M410 375 v-1.8 M425 375 v-1.8 M435.3 375 v-1.8 M328.03 370.41 v-1.8 M355.44 373.1 v-1.8 M300.98 355.38 v-1.8 M368.87 375 v-1.8 M359.65 373.1 v-1.8 M352.38 372.91 v-1.8 M345.6 372.09 v-1.8 M373.66 375 v-1.8 M345.81 372.12 v-1.8 M348.01 372.38 v-1.8 M303.76 360.2 v-1.8 M306.65 363.34 v-1.8 M356.41 373.1 v-1.8 M326.15 370.05 v-1.8 M326.33 370.09 v-1.8 M330.6 370.74 v-1.8 M332.07 370.87 v-1.8 M350.9 372.73 v-1.8 M324.49 369.73 v-1.8 M368.98 375 v-1.8 M371.03 375 v-1.8 M373.54 375 v-1.8" fill="none" stroke="#4e6282" stroke-width="0.85"/>
<path d="M292 303 L292.54 303 L292.54 316.16 L293.16 316.16 L293.16 323.38 L293.63 323.38 L293.63 327.75 L294.52 327.75 L294.52 338.28 L295.19 338.28 L295.19 345.52 L296.07 345.52 L296.07 361.29 L296.53 361.29 L296.53 362.55 L296.93 362.55 L296.93 364.38 L297.52 364.38 L297.52 367.83 L298.21 367.83 L298.21 371.5 L298.72 371.5 L298.72 373.64 L299.45 373.64 L299.45 375.39 L300.04 375.39 L300.04 376.4 L300.51 376.4 L300.51 377.26 L301.14 377.26 L301.14 378.65 L302.02 378.65 L302.02 379.91 L302.71 379.91 L302.71 380.64 L303.37 380.64 L303.37 381.41 L303.79 381.41 L303.79 381.78 L304.32 381.78 L304.32 382.49 L304.78 382.49 L304.78 382.74 L306.73 382.74 L306.73 384.26 L307.79 384.26 L307.79 384.61 L309.79 384.61 L309.79 386.11 L310.2 386.11 L310.2 386.11 L310.82 386.11 L310.82 386.32 L311.55 386.32 L311.55 386.81 L311.98 386.81 L311.98 386.98 L312.78 386.98 L312.78 387.59 L313.49 387.59 L313.49 388 L314.76 388 L314.76 388.58 L316.34 388.58 L316.34 389.18 L317.59 389.18 L317.59 389.41 L319.19 389.41 L319.19 389.45 L321.17 389.45 L321.17 389.5 L323.67 389.5 L323.67 389.56 L325.09 389.56 L325.09 389.58 L326.8 389.58 L326.8 389.66 L327.61 389.66 L327.61 389.68 L328.94 389.68 L328.94 389.76 L331.25 389.76 L331.25 389.9 L333.4 389.9 L333.4 390 L335.99 390 L335.99 390.1 L338.57 390.1 L338.57 390.1 L339.74 390.1 L339.74 390.1 L341.1 390.1 L341.1 390.1 L342.08 390.1 L342.08 390.1 L343.93 390.1 L343.93 390.1 L344.85 390.1 L344.85 390.1 L346.46 390.1 L346.46 390.1 L347.39 390.1 L347.39 390.1 L349.06 390.1 L349.06 390.1 L351.46 390.1 L351.46 390.1 L353.89 390.1 L353.89 390.1 L355.4 390.1 L355.4 390.1 L357.84 390.1 L357.84 390.1 L359.37 390.1 L359.37 390.1 L361.16 390.1 L361.16 390.1 L362.05 390.1 L362.05 390.1 L363.95 390.1 L363.95 390.1 L365.21 390.1 L365.21 390.1 L366.27 390.1 L366.27 390.1 L368.1 390.1 L368.1 390.1 L370.61 390.1 L370.61 390.1 L371.9 390.1 L371.9 390.1 L373.15 390.1 L373.15 390.1 L374.98 390.1 L374.98 390.1 L376.78 390.1 L376.78 390.1 L378.24 390.1 L378.24 390.1 L379.68 390.1 L379.68 390.1 L382.08 390.1 L382.08 390.1 L384.52 390.1 L384.52 390.1 L386.45 390.1 L386.45 390.1 L387.92 390.1 L387.92 390.1 L389.57 390.1 L389.57 390.1 L390.76 390.1 L390.76 390.1 L392.28 390.1 L392.28 390.1 L393.95 390.1 L393.95 390.1 L395.62 390.1 L395.62 390.1 L397.61 390.1 L397.61 390.1 L399.07 390.1 L399.07 390.1 L400.45 390.1 L400.45 390.1 L402.02 390.1 L402.02 390.1 L404.29 390.1 L404.29 390.1 L406.37 390.1 L406.37 390.1 L407.88 390.1 L407.88 390.1 L408.83 390.1 L408.83 390.1 L410.29 390.1 L410.29 390.1 L411.15 390.1 L411.15 390.1 L413.59 390.1 L413.59 390.1 L415.38 390.1 L415.38 390.1 L415.5 390.1 L415.5 390.1" fill="none" stroke="#a13543" stroke-width="1.45" stroke-linejoin="miter"/>
<path d="M322 389.5 v-1.8 M330 389.78 v-1.8 M345 390.1 v-1.8 M358 390.1 v-1.8 M368 390.1 v-1.8 M372 390.1 v-1.8 M376 390.1 v-1.8 M389 390.1 v-1.8 M415.3 390.1 v-1.8 M333.1 389.93 v-1.8 M340.41 390.1 v-1.8 M314.61 388.31 v-1.8 M358.79 390.1 v-1.8 M316.07 388.82 v-1.8 M355.73 390.1 v-1.8 M329.18 389.73 v-1.8 M351.9 390.1 v-1.8" fill="none" stroke="#a13543" stroke-width="0.85"/>
<line x1="368.1" y1="295.6" x2="378.1" y2="295.6" stroke="#7baa5c" stroke-width="1.2"/>
<line x1="373.1" y1="295.6" x2="373.1" y2="293.7" stroke="#7baa5c" stroke-width="0.8"/>
<text x="381.6" y="298.5" font-size="7.9" textLength="5.7" lengthAdjust="spacingAndGlyphs">Pl</text>
<text x="387.7" y="295.4" font-size="5.3" class="sup">low</text>
<text x="396.9" y="298.5" font-size="7.9" textLength="63.1" lengthAdjust="spacingAndGlyphs">(median EFS=4.69y)</text>
<line x1="368.1" y1="310.6" x2="378.1" y2="310.6" stroke="#4e6282" stroke-width="1.2"/>
<line x1="373.1" y1="310.6" x2="373.1" y2="308.7" stroke="#4e6282" stroke-width="0.8"/>
<text x="381.6" y="313.6" font-size="7.9" textLength="5.7" lengthAdjust="spacingAndGlyphs">Pl</text>
<text x="387.7" y="310.5" font-size="5.3" class="sup">int</text>
<text x="395.1" y="313.6" font-size="7.9" textLength="62.9" lengthAdjust="spacingAndGlyphs">(median EFS=0.87y)</text>
<line x1="368.1" y1="325.3" x2="378.1" y2="325.3" stroke="#a13543" stroke-width="1.2"/>
<line x1="373.1" y1="325.3" x2="373.1" y2="323.4" stroke="#a13543" stroke-width="0.8"/>
<text x="381.6" y="327.9" font-size="7.9" textLength="5.7" lengthAdjust="spacingAndGlyphs">Pl</text>
<text x="387.7" y="324.8" font-size="5.3" class="sup">high</text>
<text x="399.2" y="327.9" font-size="7.9" textLength="62.8" lengthAdjust="spacingAndGlyphs">(median EFS=0.40y)</text>
<text x="448.8" y="355" font-size="6.9" textLength="14.5" lengthAdjust="spacingAndGlyphs">42%</text>
<text x="423.8" y="371.3" font-size="6.9" textLength="13.7" lengthAdjust="spacingAndGlyphs">25%</text>
<text x="403.8" y="386.8" font-size="6.9" textLength="13.2" lengthAdjust="spacingAndGlyphs">10%</text>
<text x="302.9" y="398.7" font-size="7">X</text>
<text x="307.75" y="396.3" font-size="4.41">2</text>
<text x="310.15" y="398.7" font-size="7" textLength="49.9" lengthAdjust="spacingAndGlyphs">=88.7, P&lt;0.0001</text>
<text x="261.8" y="440.8" font-size="7.6" textLength="47.6" lengthAdjust="spacingAndGlyphs">Number at risk</text>
<line x1="261.8" y1="442.1" x2="309.4" y2="442.1" stroke="#1a1a1a" stroke-width="0.6"/>
<text x="261.8" y="452.2" font-size="7.1">PI</text>
<text x="268.76" y="449" font-size="5" class="sup">low</text>
<text x="276.26" y="452.2" font-size="7.1">:</text>
<text x="286.8" y="452.2" font-size="7.1" textLength="11.25" lengthAdjust="spacingAndGlyphs">153</text>
<text x="305" y="452.2" font-size="7.1" textLength="7.5" lengthAdjust="spacingAndGlyphs">88</text>
<text x="322.95" y="452.2" font-size="7.1" textLength="7.5" lengthAdjust="spacingAndGlyphs">76</text>
<text x="340.45" y="452.2" font-size="7.1" textLength="7.5" lengthAdjust="spacingAndGlyphs">62</text>
<text x="357.95" y="452.2" font-size="7.1" textLength="7.5" lengthAdjust="spacingAndGlyphs">49</text>
<text x="375.45" y="452.2" font-size="7.1" textLength="7.5" lengthAdjust="spacingAndGlyphs">43</text>
<text x="392.95" y="452.2" font-size="7.1" textLength="7.5" lengthAdjust="spacingAndGlyphs">23</text>
<text x="411.8" y="452.2" font-size="7.1" textLength="3.75" lengthAdjust="spacingAndGlyphs">8</text>
<text x="429.3" y="452.2" font-size="7.1" textLength="3.75" lengthAdjust="spacingAndGlyphs">4</text>
<text x="446.7" y="452.2" font-size="7.1" textLength="3.75" lengthAdjust="spacingAndGlyphs">1</text>
<text x="463.6" y="452.2" font-size="7.1" textLength="3.75" lengthAdjust="spacingAndGlyphs">0</text>
<text x="261.8" y="463.4" font-size="7.1">PI</text>
<text x="268.76" y="460.2" font-size="5" class="sup">int</text>
<text x="274.04" y="463.4" font-size="7.1">:</text>
<text x="286.8" y="463.4" font-size="7.1" textLength="11.25" lengthAdjust="spacingAndGlyphs">264</text>
<text x="305" y="463.4" font-size="7.1" textLength="7.5" lengthAdjust="spacingAndGlyphs">88</text>
<text x="322.95" y="463.4" font-size="7.1" textLength="7.5" lengthAdjust="spacingAndGlyphs">71</text>
<text x="340.45" y="463.4" font-size="7.1" textLength="7.5" lengthAdjust="spacingAndGlyphs">52</text>
<text x="357.95" y="463.4" font-size="7.1" textLength="7.5" lengthAdjust="spacingAndGlyphs">25</text>
<text x="375.45" y="463.4" font-size="7.1" textLength="7.5" lengthAdjust="spacingAndGlyphs">18</text>
<text x="392.95" y="463.4" font-size="7.1" textLength="3.75" lengthAdjust="spacingAndGlyphs">4</text>
<text x="411.8" y="463.4" font-size="7.1" textLength="3.75" lengthAdjust="spacingAndGlyphs">4</text>
<text x="429.3" y="463.4" font-size="7.1" textLength="3.75" lengthAdjust="spacingAndGlyphs">3</text>
<text x="446.7" y="463.4" font-size="7.1" textLength="3.75" lengthAdjust="spacingAndGlyphs">0</text>
<text x="463.6" y="463.4" font-size="7.1" textLength="3.75" lengthAdjust="spacingAndGlyphs">0</text>
<text x="261.8" y="475" font-size="7.1">PI</text>
<text x="268.76" y="471.81" font-size="5" class="sup">high</text>
<text x="276.54" y="475" font-size="7.1">:</text>
<text x="286.8" y="475" font-size="7.1" textLength="11.25" lengthAdjust="spacingAndGlyphs">176</text>
<text x="305" y="475" font-size="7.1" textLength="7.5" lengthAdjust="spacingAndGlyphs">28</text>
<text x="322.95" y="475" font-size="7.1" textLength="7.5" lengthAdjust="spacingAndGlyphs">20</text>
<text x="340.45" y="475" font-size="7.1" textLength="7.5" lengthAdjust="spacingAndGlyphs">15</text>
<text x="357.95" y="475" font-size="7.1" textLength="3.75" lengthAdjust="spacingAndGlyphs">7</text>
<text x="375.45" y="475" font-size="7.1" textLength="3.75" lengthAdjust="spacingAndGlyphs">6</text>
<text x="392.95" y="475" font-size="7.1" textLength="3.75" lengthAdjust="spacingAndGlyphs">2</text>
<text x="411.8" y="475" font-size="7.1" textLength="3.75" lengthAdjust="spacingAndGlyphs">2</text>
<text x="429.3" y="475" font-size="7.1" textLength="3.75" lengthAdjust="spacingAndGlyphs">1</text>
<text x="446.7" y="475" font-size="7.1" textLength="3.75" lengthAdjust="spacingAndGlyphs">0</text>
<text x="463.6" y="475" font-size="7.1" textLength="3.75" lengthAdjust="spacingAndGlyphs">0</text>
<line x1="292" y1="490.5" x2="292" y2="603.4" stroke="#1a1a1a" stroke-width="1.25"/>
<line x1="288.8" y1="602.7" x2="467.5" y2="602.7" stroke="#1a1a1a" stroke-width="1.45"/>
<line x1="288.8" y1="602.7" x2="292" y2="602.7" stroke="#1a1a1a" stroke-width="1"/>
<text x="286.1" y="604.9" font-size="7.7" text-anchor="end">0</text>
<line x1="288.8" y1="575.28" x2="292" y2="575.28" stroke="#1a1a1a" stroke-width="1"/>
<text x="286.1" y="577.48" font-size="7.7" text-anchor="end">25</text>
<line x1="288.8" y1="547.85" x2="292" y2="547.85" stroke="#1a1a1a" stroke-width="1"/>
<text x="286.1" y="550.05" font-size="7.7" text-anchor="end">50</text>
<line x1="288.8" y1="520.42" x2="292" y2="520.42" stroke="#1a1a1a" stroke-width="1"/>
<text x="286.1" y="522.62" font-size="7.7" text-anchor="end">75</text>
<line x1="288.8" y1="493" x2="292" y2="493" stroke="#1a1a1a" stroke-width="1"/>
<text x="286.1" y="495.2" font-size="7.7" text-anchor="end" textLength="12.2" lengthAdjust="spacingAndGlyphs">100</text>
<line x1="292" y1="602.7" x2="292" y2="605.7" stroke="#1a1a1a" stroke-width="1"/>
<text x="292" y="616.2" font-size="7.6" text-anchor="middle">0</text>
<line x1="309.29" y1="602.7" x2="309.29" y2="605.7" stroke="#1a1a1a" stroke-width="1"/>
<text x="309.29" y="616.2" font-size="7.6" text-anchor="middle">2</text>
<line x1="326.58" y1="602.7" x2="326.58" y2="605.7" stroke="#1a1a1a" stroke-width="1"/>
<text x="326.58" y="616.2" font-size="7.6" text-anchor="middle">4</text>
<line x1="343.87" y1="602.7" x2="343.87" y2="605.7" stroke="#1a1a1a" stroke-width="1"/>
<text x="343.87" y="616.2" font-size="7.6" text-anchor="middle">6</text>
<line x1="361.16" y1="602.7" x2="361.16" y2="605.7" stroke="#1a1a1a" stroke-width="1"/>
<text x="361.16" y="616.2" font-size="7.6" text-anchor="middle">8</text>
<line x1="378.45" y1="602.7" x2="378.45" y2="605.7" stroke="#1a1a1a" stroke-width="1"/>
<text x="378.45" y="616.2" font-size="7.6" text-anchor="middle">10</text>
<line x1="395.74" y1="602.7" x2="395.74" y2="605.7" stroke="#1a1a1a" stroke-width="1"/>
<text x="395.74" y="616.2" font-size="7.6" text-anchor="middle">12</text>
<line x1="413.03" y1="602.7" x2="413.03" y2="605.7" stroke="#1a1a1a" stroke-width="1"/>
<text x="413.03" y="616.2" font-size="7.6" text-anchor="middle">14</text>
<line x1="430.32" y1="602.7" x2="430.32" y2="605.7" stroke="#1a1a1a" stroke-width="1"/>
<text x="430.32" y="616.2" font-size="7.6" text-anchor="middle">16</text>
<line x1="447.61" y1="602.7" x2="447.61" y2="605.7" stroke="#1a1a1a" stroke-width="1"/>
<text x="447.61" y="616.2" font-size="7.6" text-anchor="middle">18</text>
<line x1="464.9" y1="602.7" x2="464.9" y2="605.7" stroke="#1a1a1a" stroke-width="1"/>
<text x="464.9" y="616.2" font-size="7.6" text-anchor="middle">20</text>
<text x="324.3" y="629.6" font-size="9.7" textLength="112" lengthAdjust="spacingAndGlyphs">Overall survival time (years)</text>
<text transform="translate(266.6 546.35) rotate(-90)" font-size="10.1" text-anchor="middle" textLength="63.8" lengthAdjust="spacingAndGlyphs">Percent survival</text>
<line x1="292" y1="547.85" x2="464.5" y2="547.85" stroke="#3a3a3a" stroke-width="1.25" stroke-dasharray="3.0 2.26" stroke-dashoffset="0"/>
<path d="M292 492.6 L292.36 492.6 L292.36 494.45 L292.82 494.45 L292.82 496.19 L293.23 496.19 L293.23 497.46 L293.8 497.46 L293.8 498.54 L294.58 498.54 L294.58 500.03 L295.15 500.03 L295.15 500.86 L295.79 500.86 L295.79 502.21 L296.51 502.21 L296.51 503.75 L297.12 503.75 L297.12 504.84 L297.82 504.84 L297.82 506.36 L298.2 506.36 L298.2 506.77 L298.66 506.77 L298.66 507.79 L299.46 507.79 L299.46 509.72 L300.1 509.72 L300.1 511.07 L300.88 511.07 L300.88 513.96 L301.4 513.96 L301.4 515.27 L302.17 515.27 L302.17 517.53 L302.89 517.53 L302.89 518.76 L303.26 518.76 L303.26 519.08 L304.09 519.08 L304.09 520.93 L304.54 520.93 L304.54 521.33 L305.41 521.33 L305.41 522.84 L306.08 522.84 L306.08 523.64 L306.83 523.64 L306.83 524.73 L307.24 524.73 L307.24 525.08 L307.96 525.08 L307.96 525.88 L308.65 525.88 L308.65 526.32 L309.48 526.32 L309.48 526.93 L310.33 526.93 L310.33 527.51 L311.17 527.51 L311.17 528.08 L311.56 528.08 L311.56 528.2 L312.2 528.2 L312.2 528.85 L312.7 528.85 L312.7 529.2 L313.09 529.2 L313.09 529.48 L313.56 529.48 L313.56 529.9 L314.36 529.9 L314.36 530.7 L315.25 530.7 L315.25 531.27 L317.3 531.27 L317.3 532.27 L319.31 532.27 L319.31 533.02 L320.86 533.02 L320.86 533.42 L322.75 533.42 L322.75 534.05 L324.35 534.05 L324.35 534.49 L326 534.49 L326 534.99 L327.11 534.99 L327.11 535.24 L328.37 535.24 L328.37 535.64 L329.96 535.64 L329.96 536.16 L331.69 536.16 L331.69 536.69 L332.71 536.69 L332.71 536.84 L334.02 536.84 L334.02 537.13 L335.3 537.13 L335.3 537.39 L337.15 537.39 L337.15 537.82 L338.11 537.82 L338.11 537.92 L339.51 537.92 L339.51 538.37 L341.4 538.37 L341.4 539.02 L342.89 539.02 L342.89 539.41 L345.18 539.41 L345.18 540.13 L347.17 540.13 L347.17 540.52 L349.39 540.52 L349.39 541.01 L351.56 541.01 L351.56 541.46 L353.09 541.46 L353.09 541.72 L355.39 541.72 L355.39 541.77 L357.35 541.77 L357.35 541.79 L359.01 541.79 L359.01 541.8 L359.97 541.8 L359.97 541.81 L361.19 541.81 L361.19 541.82 L363.04 541.82 L363.04 541.84 L363.89 541.84 L363.89 541.85 L365.18 541.85 L365.18 541.86 L366.92 541.86 L366.92 541.88 L368.49 541.88 L368.49 541.89 L370.99 541.89 L370.99 543.1 L372.24 543.1 L372.24 543.1 L373.86 543.1 L373.86 543.1 L375.08 543.1 L375.08 543.1 L376.71 543.1 L376.71 543.1 L378.47 543.1 L378.47 543.1 L380.41 543.1 L380.41 543.1 L382.24 543.1 L382.24 543.1 L384.32 543.1 L384.32 543.1 L385.86 543.1 L385.86 543.1 L388.09 543.1 L388.09 545 L390.27 545 L390.27 545 L391.76 545 L391.76 545 L392.66 545 L392.66 545 L395.24 545 L395.24 545 L397.31 545 L397.31 547.5 L399.83 547.5 L399.83 547.5 L401.2 547.5 L401.2 547.5 L402.89 547.5 L402.89 547.5 L404.86 547.5 L404.86 547.5 L406.37 547.5 L406.37 547.5 L408.02 547.5 L408.02 547.5 L409.53 547.5 L409.53 547.5 L411.11 547.5 L411.11 547.5 L413.57 547.5 L413.57 547.5 L415.72 547.5 L415.72 547.5 L417.28 547.5 L417.28 547.5 L419.18 547.5 L419.18 547.5 L421.01 547.5 L421.01 547.5 L422.6 547.5 L422.6 547.5 L424.3 547.5 L424.3 547.5 L426.31 547.5 L426.31 547.5 L427.99 547.5 L427.99 547.5 L429.56 547.5 L429.56 547.5 L431.8 547.5 L431.8 547.5 L432.82 547.5 L432.82 547.5 L434.4 547.5 L434.4 547.5 L436.05 547.5 L436.05 547.5 L438.58 547.5 L438.58 547.5 L440.9 547.5 L440.9 547.5 L442.37 547.5 L442.37 547.5 L443.93 547.5 L443.93 547.5 L445.44 547.5 L445.44 547.5 L446.75 547.5 L446.75 547.5" fill="none" stroke="#7baa5c" stroke-width="1.45" stroke-linejoin="miter"/>
<path d="M310 527 v-1.8 M318 532.14 v-1.8 M325 534.44 v-1.8 M331 536.23 v-1.8 M336 537.4 v-1.8 M340 538.3 v-1.8 M346 540.06 v-1.8 M350 540.9 v-1.8 M355 541.76 v-1.8 M360 541.81 v-1.8 M364 541.84 v-1.8 M368 541.88 v-1.8 M371 543.1 v-1.8 M375 543.1 v-1.8 M378 543.1 v-1.8 M381 543.1 v-1.8 M384 543.1 v-1.8 M388 545 v-1.8 M392 545 v-1.8 M395 545 v-1.8 M399 547.5 v-1.8 M403 547.5 v-1.8 M407 547.5 v-1.8 M410 547.5 v-1.8 M416 547.5 v-1.8 M421 547.5 v-1.8 M428 547.5 v-1.8 M436 547.5 v-1.8 M446.5 547.5 v-1.8 M359.14 541.8 v-1.8 M358.95 541.8 v-1.8 M311.55 528.04 v-1.8 M364.46 541.85 v-1.8 M314.79 530.72 v-1.8 M370.54 543.1 v-1.8 M344.61 539.7 v-1.8 M324.91 534.42 v-1.8 M365.88 541.86 v-1.8 M371.45 543.1 v-1.8 M332.37 536.64 v-1.8 M348.28 540.54 v-1.8 M309.46 526.64 v-1.8 M344.3 539.61 v-1.8 M341.42 538.74 v-1.8 M336.5 537.5 v-1.8 M314.21 530.24 v-1.8 M348.29 540.54 v-1.8 M333.76 536.95 v-1.8 M307.42 525.04 v-1.8 M372.57 543.1 v-1.8 M349.82 540.87 v-1.8" fill="none" stroke="#7baa5c" stroke-width="0.85"/>
<path d="M292 498.6 L292.77 498.6 L292.77 503.29 L293.37 503.29 L293.37 504.92 L293.93 504.92 L293.93 506.27 L294.59 506.27 L294.59 508.04 L295.47 508.04 L295.47 510.52 L296.08 510.52 L296.08 512.49 L296.98 512.49 L296.98 516.68 L297.42 516.68 L297.42 517.55 L297.92 517.55 L297.92 520.28 L298.4 520.28 L298.4 522.81 L299.16 522.81 L299.16 527.71 L299.99 527.71 L299.99 532.24 L300.68 532.24 L300.68 535.53 L301.45 535.53 L301.45 538.87 L301.86 538.87 L301.86 539.48 L302.65 539.48 L302.65 542.06 L303.15 542.06 L303.15 542.99 L304 542.99 L304 547.09 L304.62 547.09 L304.62 548.12 L305.41 548.12 L305.41 549.86 L305.81 549.86 L305.81 550.27 L306.52 550.27 L306.52 551.78 L306.93 551.78 L306.93 552.14 L307.43 552.14 L307.43 552.9 L308.11 552.9 L308.11 553.98 L308.95 553.98 L308.95 555.27 L309.68 555.27 L309.68 555.86 L311.36 555.86 L311.36 557.08 L313 557.08 L313 558 L314.27 558 L314.27 558.46 L315.51 558.46 L315.51 558.95 L317.33 558.95 L317.33 559.8 L319.27 559.8 L319.27 560.59 L321.48 560.59 L321.48 561.53 L323.15 561.53 L323.15 562.1 L325.32 562.1 L325.32 563.06 L327.64 563.06 L327.64 563.34 L329.04 563.34 L329.04 563.44 L330.08 563.44 L330.08 563.53 L331.91 563.53 L331.91 563.76 L332.96 563.76 L332.96 563.83 L335.03 563.83 L335.03 564.1 L337.23 564.1 L337.23 564.33 L338.27 564.33 L338.27 564.38 L340.27 564.38 L340.27 564.62 L341.79 564.62 L341.79 564.74 L343.9 564.74 L343.9 564.97 L346.42 564.97 L346.42 565.18 L348.69 565.18 L348.69 565.33 L350.48 565.33 L350.48 565.45 L351.72 565.45 L351.72 565.52 L352.73 565.52 L352.73 565.58 L353.27 565.58 L353.27 565.89 L353.86 565.89 L353.86 566.9 L354.92 566.9 L354.92 566.9 L356.49 566.9 L356.49 566.9 L357.67 566.9 L357.67 566.9 L359.91 566.9 L359.91 566.9 L362.1 566.9 L362.1 569 L362.53 569 L362.53 569 L363.13 569 L363.13 569 L363.6 569 L363.6 569 L365.72 569 L365.72 569 L367.95 569 L367.95 569 L370.07 569 L370.07 569 L371.08 569 L371.08 569 L372.19 569 L372.19 569 L373.07 569 L373.07 569 L373.89 569 L373.89 569 L375.2 569 L375.2 569 L377.64 569 L377.64 569 L379.1 569 L379.1 569 L381.42 569 L381.42 569 L382.64 569 L382.64 569 L383.75 569 L383.75 569 L385.71 569 L385.71 569 L388.24 569 L388.24 569 L390.48 569 L390.48 569 L392.68 569 L392.68 569 L394.4 569 L394.4 569 L395.27 569 L395.27 569 L396.56 569 L396.56 569 L397.97 569 L397.97 569 L399.15 569 L399.15 569 L400.81 569 L400.81 569 L401.9 569 L401.9 569 L404.17 569 L404.17 569 L406.73 569 L406.73 569 L409.2 569 L409.2 569 L410.71 569 L410.71 569 L412.28 569 L412.28 569 L413.59 569 L413.59 569 L415.06 569 L415.06 569 L415.9 569 L415.9 569 L417.05 569 L417.05 569 L418.42 569 L418.42 569 L419.57 569 L419.57 569 L420.68 569 L420.68 569 L422.81 569 L422.81 569 L425.15 569 L425.15 569 L426.72 569 L426.72 569 L429.16 569 L429.16 569 L431.01 569 L431.01 569 L431.88 569 L431.88 569 L434.25 569 L434.25 569 L436.61 569 L436.61 569 L437.59 569 L437.59 569 L439.22 569 L439.22 569 L440.51 569 L440.51 569 L442.54 569 L442.54 569 L443.45 569 L443.45 569 L445.29 569 L445.29 569 L446.48 569 L446.48 569 L448.04 569 L448.04 569 L450.32 569 L450.32 569 L452.87 569 L452.87 569 L453.75 569 L453.75 569" fill="none" stroke="#4e6282" stroke-width="1.45" stroke-linejoin="miter"/>
<path d="M312 556.96 v-1.8 M318 559.7 v-1.8 M325 562.5 v-1.8 M330 563.46 v-1.8 M338 564.3 v-1.8 M344 564.88 v-1.8 M350 565.35 v-1.8 M357 566.9 v-1.8 M362 566.9 v-1.8 M368 569 v-1.8 M372 569 v-1.8 M376 569 v-1.8 M380 569 v-1.8 M384 569 v-1.8 M387 569 v-1.8 M390 569 v-1.8 M392 569 v-1.8 M397 569 v-1.8 M405 569 v-1.8 M412 569 v-1.8 M425 569 v-1.8 M437 569 v-1.8 M453.5 569 v-1.8 M328.03 563.26 v-1.8 M355.44 566.9 v-1.8 M300.98 535.27 v-1.8 M368.87 569 v-1.8 M359.65 566.9 v-1.8 M352.38 565.52 v-1.8 M345.6 565.03 v-1.8 M373.66 569 v-1.8 M345.81 565.04 v-1.8 M348.01 565.2 v-1.8 M303.76 544.93 v-1.8 M306.65 551.47 v-1.8 M356.41 566.9 v-1.8 M326.15 562.96 v-1.8 M326.33 563.03 v-1.8 M330.6 563.53 v-1.8 M332.07 563.68 v-1.8 M350.9 565.41 v-1.8 M324.49 562.29 v-1.8 M368.98 569 v-1.8 M371.03 569 v-1.8 M373.54 569 v-1.8" fill="none" stroke="#4e6282" stroke-width="0.85"/>
<path d="M292 500.5 L292.86 500.5 L292.86 509.77 L293.59 509.77 L293.59 514.18 L294.26 514.18 L294.26 518.61 L294.7 518.61 L294.7 520.8 L295.13 520.8 L295.13 523.74 L295.67 523.74 L295.67 528.58 L296.05 528.58 L296.05 531 L296.7 531 L296.7 537.46 L297.24 537.46 L297.24 540.77 L297.97 540.77 L297.97 546.36 L298.66 546.36 L298.66 550.95 L299.46 550.95 L299.46 555.9 L299.93 555.9 L299.93 556.98 L300.62 556.98 L300.62 559.76 L301.38 559.76 L301.38 562.55 L301.94 562.55 L301.94 564.1 L302.78 564.1 L302.78 567.05 L303.3 567.05 L303.3 568.11 L303.79 568.11 L303.79 569.58 L304.23 569.58 L304.23 570.78 L304.64 570.78 L304.64 571.58 L305.51 571.58 L305.51 573.12 L305.99 573.12 L305.99 573.51 L306.6 573.51 L306.6 574.44 L307.21 574.44 L307.21 575.27 L307.79 575.27 L307.79 575.88 L308.55 575.88 L308.55 576.58 L308.99 576.58 L308.99 576.83 L309.67 576.83 L309.67 577.49 L310.02 577.49 L310.02 577.66 L310.37 577.66 L310.37 577.95 L310.75 577.95 L310.75 578.28 L311.41 578.28 L311.41 578.8 L313.89 578.8 L313.89 579.48 L315.16 579.48 L315.16 579.61 L316.22 579.61 L316.22 579.8 L318.72 579.8 L318.72 581.11 L320.33 581.11 L320.33 581.7 L321.33 581.7 L321.33 582.04 L322.27 582.04 L322.27 582.5 L324.14 582.5 L324.14 582.89 L325.52 582.89 L325.52 583.08 L327.85 583.08 L327.85 583.54 L329.84 583.54 L329.84 583.83 L331.47 583.83 L331.47 584.04 L333.99 584.04 L333.99 584.46 L334.98 584.46 L334.98 584.5 L336.79 584.5 L336.79 584.81 L338.64 584.81 L338.64 585 L339.99 585 L339.99 585 L341.55 585 L341.55 585 L343.11 585 L343.11 585 L345.54 585 L345.54 585 L346.46 585 L346.46 585 L348.36 585 L348.36 585 L349.69 585 L349.69 585 L351.19 585 L351.19 585 L353.68 585 L353.68 585 L355 585 L355 585 L356.09 585 L356.09 585 L357.89 585 L357.89 585 L360.21 585 L360.21 585 L362.71 585 L362.71 585 L365.02 585 L365.02 585 L367.35 585 L367.35 585 L368.36 585 L368.36 585 L369.94 585 L369.94 585 L370.83 585 L370.83 585 L372.19 585 L372.19 585 L373.5 585 L373.5 585 L374.39 585 L374.39 585 L375.43 585 L375.43 585 L377.59 585 L377.59 585 L378.61 585 L378.61 585 L380.66 585 L380.66 585 L382.71 585 L382.71 585 L384.27 585 L384.27 585 L386.84 585 L386.84 585 L389.14 585 L389.14 585 L390.13 585 L390.13 585 L391.81 585 L391.81 585 L393.91 585 L393.91 585 L396.32 585 L396.32 585 L397.5 585 L397.5 585 L399.62 585 L399.62 585 L401.78 585 L401.78 585 L403.1 585 L403.1 585 L405.37 585 L405.37 585 L407.88 585 L407.88 585 L409.32 585 L409.32 585 L411.63 585 L411.63 585 L412.99 585 L412.99 585 L414.59 585 L414.59 585 L415.5 585 L415.5 585" fill="none" stroke="#a13543" stroke-width="1.45" stroke-linejoin="miter"/>
<path d="M310 577.49 v-1.8 M318 580.12 v-1.8 M325 582.88 v-1.8 M333 584.14 v-1.8 M340 585 v-1.8 M345 585 v-1.8 M355 585 v-1.8 M362 585 v-1.8 M368 585 v-1.8 M372 585 v-1.8 M376 585 v-1.8 M389 585 v-1.8 M415.3 585 v-1.8 M333.1 584.16 v-1.8 M340.41 585 v-1.8 M314.61 579.37 v-1.8 M358.79 585 v-1.8 M316.07 579.66 v-1.8 M355.73 585 v-1.8 M329.18 583.57 v-1.8 M351.9 585 v-1.8" fill="none" stroke="#a13543" stroke-width="0.85"/>
<line x1="359.4" y1="497" x2="369.4" y2="497" stroke="#7baa5c" stroke-width="1.2"/>
<line x1="364.4" y1="497" x2="364.4" y2="495.1" stroke="#7baa5c" stroke-width="0.8"/>
<text x="372.8" y="499.9" font-size="7.9" textLength="5.7" lengthAdjust="spacingAndGlyphs">Pl</text>
<text x="378.9" y="496.8" font-size="5.3" class="sup">low</text>
<text x="388.2" y="499.9" font-size="7.9" textLength="76.3" lengthAdjust="spacingAndGlyphs">(median OS=undefined)</text>
<line x1="359.4" y1="511.5" x2="369.4" y2="511.5" stroke="#4e6282" stroke-width="1.2"/>
<line x1="364.4" y1="511.5" x2="364.4" y2="509.6" stroke="#4e6282" stroke-width="0.8"/>
<text x="372.8" y="514.5" font-size="7.9" textLength="5.7" lengthAdjust="spacingAndGlyphs">Pl</text>
<text x="378.9" y="511.4" font-size="5.3" class="sup">int</text>
<text x="386.4" y="514.5" font-size="7.9" textLength="61.6" lengthAdjust="spacingAndGlyphs">(median OS=1.49y)</text>
<line x1="359.4" y1="526.1" x2="369.4" y2="526.1" stroke="#a13543" stroke-width="1.2"/>
<line x1="364.4" y1="526.1" x2="364.4" y2="524.2" stroke="#a13543" stroke-width="0.8"/>
<text x="372.8" y="529" font-size="7.9" textLength="5.7" lengthAdjust="spacingAndGlyphs">Pl</text>
<text x="378.9" y="525.9" font-size="5.3" class="sup">high</text>
<text x="390.5" y="529" font-size="7.9" textLength="59.5" lengthAdjust="spacingAndGlyphs">(median OS=0.74y)</text>
<text x="430.5" y="542.8" font-size="6.9" textLength="19" lengthAdjust="spacingAndGlyphs">50.3%</text>
<text x="441.3" y="564.6" font-size="6.9" textLength="13.2" lengthAdjust="spacingAndGlyphs">31%</text>
<text x="403.8" y="581.8" font-size="6.9" textLength="13.2" lengthAdjust="spacingAndGlyphs">15%</text>
<text x="299.9" y="596.3" font-size="7">X</text>
<text x="304.75" y="593.9" font-size="4.41">2</text>
<text x="307.15" y="596.3" font-size="7" textLength="54.1" lengthAdjust="spacingAndGlyphs">=78.75, P&lt;0.0001</text>
<text x="261.8" y="641.8" font-size="7.6" textLength="47.6" lengthAdjust="spacingAndGlyphs">Number at risk</text>
<line x1="261.8" y1="643.1" x2="309.4" y2="643.1" stroke="#1a1a1a" stroke-width="0.6"/>
<text x="261.8" y="653.2" font-size="7.1">PI</text>
<text x="268.76" y="650" font-size="5" class="sup">low</text>
<text x="276.26" y="653.2" font-size="7.1">:</text>
<text x="286.8" y="653.2" font-size="7.1" textLength="11.25" lengthAdjust="spacingAndGlyphs">153</text>
<text x="305" y="653.2" font-size="7.1" textLength="11.25" lengthAdjust="spacingAndGlyphs">104</text>
<text x="322.95" y="653.2" font-size="7.1" textLength="7.5" lengthAdjust="spacingAndGlyphs">90</text>
<text x="340.45" y="653.2" font-size="7.1" textLength="7.5" lengthAdjust="spacingAndGlyphs">72</text>
<text x="357.95" y="653.2" font-size="7.1" textLength="7.5" lengthAdjust="spacingAndGlyphs">57</text>
<text x="375.45" y="653.2" font-size="7.1" textLength="7.5" lengthAdjust="spacingAndGlyphs">49</text>
<text x="392.95" y="653.2" font-size="7.1" textLength="7.5" lengthAdjust="spacingAndGlyphs">26</text>
<text x="411.8" y="653.2" font-size="7.1" textLength="7.5" lengthAdjust="spacingAndGlyphs">10</text>
<text x="429.3" y="653.2" font-size="7.1" textLength="3.75" lengthAdjust="spacingAndGlyphs">5</text>
<text x="446.7" y="653.2" font-size="7.1" textLength="3.75" lengthAdjust="spacingAndGlyphs">1</text>
<text x="463.6" y="653.2" font-size="7.1" textLength="3.75" lengthAdjust="spacingAndGlyphs">0</text>
<text x="261.8" y="664.9" font-size="7.1">PI</text>
<text x="268.76" y="661.7" font-size="5" class="sup">int</text>
<text x="274.04" y="664.9" font-size="7.1">:</text>
<text x="286.8" y="664.9" font-size="7.1" textLength="11.25" lengthAdjust="spacingAndGlyphs">264</text>
<text x="305" y="664.9" font-size="7.1" textLength="11.25" lengthAdjust="spacingAndGlyphs">113</text>
<text x="322.95" y="664.9" font-size="7.1" textLength="7.5" lengthAdjust="spacingAndGlyphs">92</text>
<text x="340.45" y="664.9" font-size="7.1" textLength="7.5" lengthAdjust="spacingAndGlyphs">68</text>
<text x="357.95" y="664.9" font-size="7.1" textLength="7.5" lengthAdjust="spacingAndGlyphs">38</text>
<text x="375.45" y="664.9" font-size="7.1" textLength="7.5" lengthAdjust="spacingAndGlyphs">28</text>
<text x="392.95" y="664.9" font-size="7.1" textLength="3.75" lengthAdjust="spacingAndGlyphs">8</text>
<text x="411.8" y="664.9" font-size="7.1" textLength="3.75" lengthAdjust="spacingAndGlyphs">8</text>
<text x="429.3" y="664.9" font-size="7.1" textLength="3.75" lengthAdjust="spacingAndGlyphs">3</text>
<text x="446.7" y="664.9" font-size="7.1" textLength="3.75" lengthAdjust="spacingAndGlyphs">1</text>
<text x="463.6" y="664.9" font-size="7.1" textLength="3.75" lengthAdjust="spacingAndGlyphs">0</text>
<text x="261.8" y="676.2" font-size="7.1">PI</text>
<text x="268.76" y="673" font-size="5" class="sup">high</text>
<text x="276.54" y="676.2" font-size="7.1">:</text>
<text x="286.8" y="676.2" font-size="7.1" textLength="11.25" lengthAdjust="spacingAndGlyphs">176</text>
<text x="305" y="676.2" font-size="7.1" textLength="7.5" lengthAdjust="spacingAndGlyphs">44</text>
<text x="322.95" y="676.2" font-size="7.1" textLength="7.5" lengthAdjust="spacingAndGlyphs">32</text>
<text x="340.45" y="676.2" font-size="7.1" textLength="7.5" lengthAdjust="spacingAndGlyphs">20</text>
<text x="357.95" y="676.2" font-size="7.1" textLength="3.75" lengthAdjust="spacingAndGlyphs">8</text>
<text x="375.45" y="676.2" font-size="7.1" textLength="3.75" lengthAdjust="spacingAndGlyphs">6</text>
<text x="392.95" y="676.2" font-size="7.1" textLength="3.75" lengthAdjust="spacingAndGlyphs">2</text>
<text x="411.8" y="676.2" font-size="7.1" textLength="3.75" lengthAdjust="spacingAndGlyphs">2</text>
<text x="429.3" y="676.2" font-size="7.1" textLength="3.75" lengthAdjust="spacingAndGlyphs">1</text>
<text x="446.7" y="676.2" font-size="7.1" textLength="3.75" lengthAdjust="spacingAndGlyphs">0</text>
<text x="463.6" y="676.2" font-size="7.1" textLength="3.75" lengthAdjust="spacingAndGlyphs">0</text>
<rect x="0.5" y="0.5" width="519" height="691" fill="none" stroke="#474747" stroke-width="1"/>
<rect x="1.5" y="1.5" width="517" height="689" fill="none" stroke="#9a9a9a" stroke-width="1"/>
</svg>
</body></html>
